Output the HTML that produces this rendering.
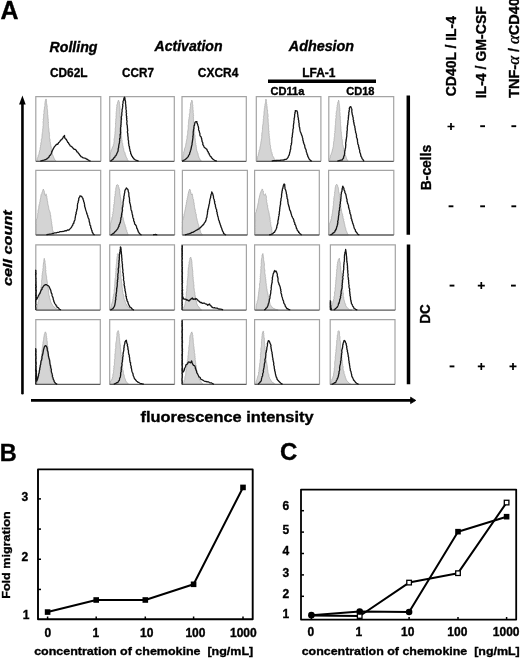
<!DOCTYPE html>
<html><head><meta charset="utf-8"><style>
html,body{margin:0;padding:0;background:#fff;}
svg{display:block;will-change:transform;}
text{font-family:"Liberation Sans",sans-serif;stroke:#000;stroke-width:0.35px;}
</style></head><body>
<svg width="520" height="658" viewBox="0 0 520 658">
<rect width="520" height="658" fill="#fff"/>
<path d="M36.69,161.30 L36.69,161.30 L36.86,160.54 L37.19,159.94 L37.16,158.88 L37.37,158.21 L37.73,157.48 L37.80,156.97 L38.23,156.25 L38.16,155.73 L38.54,154.75 L38.91,154.52 L39.05,153.70 L39.01,152.83 L39.48,152.03 L39.47,150.91 L39.64,150.45 L40.06,149.90 L40.05,149.07 L40.07,148.29 L40.33,147.09 L40.53,146.58 L40.70,146.01 L40.43,145.17 L40.97,144.29 L40.83,143.93 L40.89,143.01 L41.03,142.52 L41.43,141.47 L41.20,140.66 L41.49,140.29 L41.39,139.33 L41.76,138.59 L41.90,137.86 L42.05,137.16 L41.96,136.33 L42.05,135.56 L42.13,134.77 L42.03,133.97 L42.31,133.52 L42.33,132.45 L42.53,132.19 L42.67,131.45 L42.72,130.77 L42.61,129.73 L42.76,128.93 L42.87,128.55 L42.97,127.67 L43.06,126.94 L42.88,126.26 L43.21,125.69 L43.17,124.47 L43.15,123.99 L43.22,123.48 L43.08,122.67 L43.07,121.63 L43.44,120.97 L43.50,120.09 L43.23,119.72 L43.23,118.91 L43.69,118.15 L43.63,117.11 L43.66,116.72 L43.68,115.86 L43.63,115.48 L43.56,114.16 L44.09,113.51 L43.78,112.78 L44.20,112.46 L43.91,111.41 L44.04,110.56 L44.19,110.05 L44.34,109.02 L44.50,108.19 L44.39,107.99 L44.51,106.84 L44.84,106.36 L45.01,105.19 L44.97,104.90 L44.75,103.95 L45.20,102.98 L45.05,102.29 L45.28,101.20 L45.43,100.50 L45.61,99.72 L46.02,98.95 L46.39,99.70 L46.36,100.36 L46.55,101.36 L46.33,102.14 L46.53,103.35 L46.72,103.85 L46.86,105.14 L47.12,105.84 L47.22,106.47 L47.13,107.40 L46.99,107.89 L47.21,108.69 L47.41,109.54 L47.58,110.43 L47.42,111.10 L47.62,111.85 L47.66,112.38 L47.61,113.25 L47.54,114.16 L47.75,114.93 L47.94,115.87 L47.88,116.28 L47.92,117.32 L48.18,118.07 L47.90,118.92 L48.16,119.10 L48.26,120.38 L48.15,120.93 L48.16,121.38 L48.40,121.99 L48.50,123.04 L48.20,123.53 L48.51,124.72 L48.38,125.51 L48.35,126.17 L48.55,126.44 L48.55,127.40 L48.86,128.38 L48.61,128.91 L48.92,129.54 L49.08,130.23 L48.74,130.83 L49.11,131.87 L49.30,132.83 L49.35,133.03 L49.33,134.16 L49.38,134.94 L49.60,135.66 L49.44,136.37 L49.46,137.17 L49.46,137.68 L49.71,138.83 L49.99,139.33 L50.06,139.92 L49.95,141.25 L50.13,141.67 L50.37,142.38 L50.45,143.11 L50.36,143.85 L50.70,144.55 L50.76,145.47 L50.88,146.11 L51.23,147.10 L51.32,148.17 L51.19,148.64 L51.48,149.38 L51.40,150.33 L51.88,151.25 L51.94,151.73 L52.29,152.70 L52.05,153.17 L52.56,153.97 L52.48,154.84 L52.99,155.55 L53.24,156.30 L53.61,156.88 L53.79,157.89 L54.08,158.44 L54.50,158.86 L54.66,159.83 L55.31,160.18 L55.76,160.74 L56.21,161.30 L56.21,161.30 Z" fill="#d4d4d4" stroke="#acacac" stroke-width="0.8" stroke-linejoin="round"/>
<path d="M35.80,161.30 L35.80,96.70 L100.80,96.70 L100.80,161.30" fill="none" stroke="#a4a4a4" stroke-width="1.2"/>
<line x1="35.80" y1="161.30" x2="100.80" y2="161.30" stroke="#5a5a5a" stroke-width="1.3"/>
<path d="M40.28,161.05 L41.18,160.81 L42.08,160.56 L42.97,160.33 L43.87,160.11 L44.60,159.86 L45.57,159.69 L46.23,159.22 L46.93,158.96 L47.26,158.33 L47.92,158.04 L49.02,157.09 L49.12,156.76 L49.47,155.81 L49.87,155.32 L50.48,155.10 L50.69,154.50 L51.14,153.80 L51.56,152.68 L51.76,151.99 L51.74,151.48 L52.40,150.91 L52.41,150.40 L53.04,149.36 L53.16,148.93 L53.71,147.95 L53.88,147.78 L54.24,146.96 L55.00,146.16 L55.44,145.53 L56.23,144.71 L57.05,144.05 L57.55,144.29 L58.16,143.70 L58.53,142.64 L59.07,142.36 L59.68,141.60 L60.26,140.77 L60.96,139.88 L61.68,139.64 L62.11,138.90 L63.04,137.85 L63.04,137.46 L63.44,136.62 L63.94,136.15 L64.54,135.43 L64.52,135.99 L64.60,137.00 L64.97,138.21 L65.36,138.68 L66.25,139.36 L66.59,140.17 L67.01,140.76 L67.41,141.56 L67.67,142.29 L68.46,142.52 L68.59,143.31 L69.01,144.05 L69.74,144.85 L70.14,145.88 L70.97,146.18 L71.51,146.56 L72.01,146.98 L72.57,147.52 L72.87,148.00 L73.67,148.88 L74.43,149.36 L75.01,149.38 L75.66,149.84 L76.31,150.46 L76.46,150.90 L76.98,151.80 L77.76,152.11 L77.85,152.32 L78.22,153.03 L78.94,153.81 L79.49,154.51 L79.70,155.01 L80.42,155.71 L80.96,156.54 L81.56,156.77 L82.39,157.33 L82.96,157.83 L83.57,157.96 L84.58,158.05 L85.00,158.20 L85.80,158.46 L86.34,159.19 L87.20,159.21 L87.91,159.83 L88.52,160.15 L89.19,160.56 L89.87,160.81 L90.54,161.05" fill="none" stroke="#151515" stroke-width="1.3" stroke-linejoin="round"/>
<path d="M109.70,161.30 L109.70,161.30 L109.73,160.58 L109.59,160.08 L109.92,159.01 L109.83,158.41 L109.94,157.90 L109.70,156.72 L110.09,156.25 L110.09,155.28 L110.10,154.90 L110.15,154.23 L110.64,152.87 L110.38,152.37 L110.98,151.47 L110.96,150.82 L111.19,150.03 L111.71,149.52 L111.93,148.68 L112.25,148.15 L112.48,147.21 L112.93,146.86 L113.03,145.97 L113.39,145.70 L113.16,144.71 L113.64,144.26 L113.94,143.41 L113.99,142.83 L113.83,142.05 L114.21,141.47 L114.12,140.58 L114.00,139.64 L114.46,139.00 L114.26,138.35 L114.61,137.69 L114.55,136.82 L114.71,136.29 L114.82,135.32 L114.85,134.38 L114.69,134.06 L115.19,133.27 L114.96,132.29 L115.07,132.05 L115.25,131.06 L115.34,130.15 L115.23,129.86 L115.31,128.84 L115.21,128.16 L115.60,127.11 L115.57,126.88 L115.67,126.11 L115.67,125.25 L115.60,124.48 L115.40,124.03 L115.69,122.91 L115.71,122.36 L115.68,121.56 L115.81,121.01 L115.89,120.19 L115.66,119.34 L115.77,118.83 L116.15,118.24 L116.16,117.54 L115.95,116.83 L116.19,115.66 L115.92,114.90 L116.34,114.32 L116.09,113.82 L116.27,112.76 L116.24,112.31 L116.31,111.43 L116.63,110.82 L116.50,110.10 L116.42,109.33 L116.68,108.48 L116.59,108.18 L116.84,107.04 L116.95,106.68 L116.73,105.48 L116.95,105.09 L117.12,104.28 L117.53,103.37 L117.47,102.82 L117.91,101.74 L118.04,101.01 L118.53,100.16 L119.03,101.14 L119.02,101.72 L119.56,102.85 L119.36,103.63 L119.47,104.46 L119.79,104.93 L119.67,105.47 L120.00,106.22 L120.00,107.50 L119.92,107.75 L120.09,108.95 L120.04,109.40 L119.92,110.03 L119.86,110.95 L120.00,111.38 L119.88,112.39 L120.00,113.02 L120.05,113.97 L120.35,114.18 L120.05,115.09 L120.47,116.09 L120.20,116.47 L120.40,117.57 L120.57,118.00 L120.58,118.93 L120.43,119.83 L120.35,120.40 L120.32,120.79 L120.76,121.54 L120.73,122.50 L120.81,123.09 L120.61,123.77 L120.91,124.68 L121.00,125.57 L120.66,126.10 L120.70,126.51 L120.73,127.73 L121.13,128.44 L120.97,129.03 L121.23,129.62 L121.18,130.25 L121.00,131.00 L121.44,131.90 L121.50,132.56 L121.25,133.49 L121.56,133.75 L121.56,134.54 L121.37,135.77 L121.41,136.13 L121.94,136.98 L121.59,137.58 L121.73,138.67 L121.74,139.52 L121.94,140.30 L122.27,140.65 L122.07,141.52 L122.12,142.40 L122.20,142.78 L122.77,143.72 L122.70,144.59 L122.68,145.12 L123.08,146.44 L123.30,146.73 L123.12,147.84 L123.68,148.60 L123.73,149.48 L123.71,150.22 L123.96,150.71 L124.07,151.41 L124.73,152.18 L124.80,152.97 L125.16,153.49 L125.08,154.13 L125.35,155.11 L125.90,155.46 L125.90,156.28 L126.29,156.98 L126.40,157.31 L126.73,158.01 L127.22,158.68 L127.32,159.70 L127.87,160.29 L128.54,161.30 L128.54,161.30 Z" fill="#d4d4d4" stroke="#acacac" stroke-width="0.8" stroke-linejoin="round"/>
<path d="M109.70,161.30 L109.70,96.70 L174.30,96.70 L174.30,161.30" fill="none" stroke="#a4a4a4" stroke-width="1.2"/>
<line x1="109.70" y1="161.30" x2="174.30" y2="161.30" stroke="#5a5a5a" stroke-width="1.3"/>
<path d="M110.37,161.30 L111.04,160.74 L111.71,160.18 L112.42,159.43 L113.11,159.36 L113.38,158.70 L113.76,157.93 L114.30,157.71 L114.77,157.21 L115.21,156.07 L115.72,155.74 L116.36,154.89 L116.61,154.31 L116.92,153.38 L117.20,152.77 L117.31,152.41 L117.86,151.64 L118.13,150.69 L118.07,149.92 L118.26,149.28 L118.25,148.38 L118.68,147.52 L118.62,146.95 L118.70,146.13 L118.87,145.07 L118.98,144.35 L119.06,143.98 L119.43,143.04 L119.48,142.37 L119.51,141.87 L119.51,141.13 L119.79,140.27 L119.55,139.17 L119.63,138.60 L120.12,138.18 L120.13,136.99 L120.13,136.65 L120.24,135.93 L119.98,134.82 L120.36,134.43 L120.47,133.52 L120.53,132.60 L120.62,132.31 L120.38,131.09 L120.54,130.73 L120.49,129.63 L120.51,129.37 L120.47,128.71 L120.60,127.54 L120.59,127.29 L121.02,126.16 L120.68,125.64 L121.11,124.53 L121.04,124.31 L121.01,123.41 L121.23,122.49 L121.03,122.02 L121.22,121.21 L121.18,120.72 L121.22,119.83 L121.57,118.93 L121.23,118.08 L121.29,117.31 L121.38,116.69 L121.56,116.02 L121.76,115.42 L121.84,114.50 L121.89,113.88 L121.70,113.13 L121.87,112.46 L122.14,111.45 L122.08,110.83 L122.08,109.83 L122.04,109.65 L122.45,108.57 L122.49,107.72 L122.58,107.39 L122.71,106.33 L122.91,105.83 L122.56,104.75 L122.84,103.90 L123.02,103.06 L123.18,102.71 L122.94,101.85 L123.21,100.97 L123.58,100.33 L123.80,99.11 L123.94,98.15 L124.60,97.25 L124.93,98.21 L124.99,99.33 L125.02,99.78 L125.16,100.52 L125.51,101.56 L125.57,102.53 L125.55,102.80 L125.49,103.83 L125.80,104.82 L125.76,105.16 L125.86,106.33 L125.80,107.07 L126.13,107.61 L125.99,108.09 L125.87,108.78 L126.17,109.94 L126.40,110.60 L126.45,111.22 L126.09,111.75 L126.21,112.76 L126.59,113.36 L126.28,114.35 L126.40,114.98 L126.34,115.89 L126.76,116.57 L126.81,117.05 L126.43,117.77 L126.89,118.60 L126.61,119.14 L126.64,120.05 L127.05,121.05 L127.02,121.71 L126.80,122.46 L126.86,123.04 L126.82,123.99 L126.92,124.55 L127.22,125.31 L127.28,125.88 L127.38,126.95 L127.35,127.70 L127.52,127.87 L127.48,128.62 L127.53,129.51 L127.67,130.04 L127.77,130.76 L127.39,131.46 L127.48,132.78 L127.87,133.46 L127.61,134.05 L127.96,134.80 L127.75,135.67 L128.05,136.24 L127.91,136.82 L128.21,137.64 L128.16,138.63 L128.20,139.34 L128.10,139.89 L128.49,140.33 L128.56,141.24 L128.60,142.19 L128.48,143.13 L128.65,143.39 L128.87,144.10 L128.83,145.26 L128.94,145.88 L129.44,146.57 L129.53,147.55 L129.33,147.84 L129.75,149.07 L129.97,149.78 L130.00,150.74 L130.30,151.43 L130.57,151.81 L130.67,152.94 L130.59,153.41 L131.20,154.25 L131.40,154.78 L131.67,155.80 L132.13,156.28 L132.52,156.68 L132.74,157.63 L133.57,158.04 L133.75,158.94 L134.50,159.18 L135.11,159.79 L135.94,160.29 L136.62,160.49 L137.29,160.69 L137.96,160.90 L138.63,161.10" fill="none" stroke="#151515" stroke-width="1.3" stroke-linejoin="round"/>
<path d="M182.42,161.30 L182.42,161.30 L182.51,160.57 L182.82,160.11 L182.48,158.86 L182.94,158.52 L182.95,157.54 L183.01,156.99 L183.15,155.95 L183.24,155.32 L183.53,154.91 L183.79,153.87 L183.70,152.94 L183.66,152.02 L184.02,151.43 L184.17,151.00 L184.44,150.04 L184.49,148.95 L184.72,148.24 L185.00,147.99 L185.28,146.73 L185.57,146.33 L185.65,145.65 L185.81,144.83 L185.76,144.20 L186.20,142.96 L186.25,142.54 L186.26,141.68 L186.43,141.17 L186.58,140.37 L186.66,139.65 L187.02,138.67 L186.96,138.21 L187.13,137.21 L186.99,136.38 L187.32,135.55 L187.51,134.88 L187.61,134.17 L187.73,133.67 L187.61,132.83 L187.78,132.13 L187.72,131.17 L187.89,130.88 L188.01,129.64 L188.18,129.31 L188.29,128.26 L188.29,127.46 L188.32,126.86 L188.18,126.50 L188.20,125.56 L188.63,124.67 L188.39,124.33 L188.57,123.50 L188.45,122.57 L188.59,122.03 L188.62,121.47 L188.67,120.61 L188.74,119.60 L189.19,118.82 L188.96,118.41 L189.13,117.30 L189.49,116.64 L189.11,116.03 L189.46,115.54 L189.29,114.58 L189.32,113.92 L189.75,113.37 L189.89,112.65 L189.96,111.88 L189.86,110.84 L190.04,110.15 L189.86,109.48 L190.32,108.54 L190.27,107.95 L190.33,107.05 L190.63,106.37 L190.55,105.72 L190.43,105.00 L190.65,103.89 L190.76,103.14 L190.95,102.62 L191.31,102.02 L191.79,101.22 L191.72,100.08 L192.00,100.98 L192.44,101.91 L192.56,102.35 L192.50,103.28 L192.38,103.76 L192.65,104.57 L192.88,105.42 L192.65,106.16 L192.79,106.95 L192.97,107.82 L192.91,108.65 L192.91,109.53 L193.31,110.15 L193.10,110.75 L193.21,111.20 L193.17,112.20 L193.10,112.67 L193.44,113.56 L193.35,114.62 L193.43,114.96 L193.65,115.74 L193.23,116.65 L193.31,117.15 L193.71,118.09 L193.35,118.68 L193.58,119.43 L193.53,120.22 L193.51,120.76 L193.69,121.87 L193.59,122.49 L193.69,123.11 L193.82,123.76 L194.04,124.45 L193.78,125.01 L193.80,126.17 L194.13,126.96 L194.22,127.13 L194.26,128.30 L194.36,128.86 L194.24,129.56 L194.52,130.17 L194.45,131.02 L194.72,131.94 L194.77,132.69 L194.52,133.05 L194.68,133.79 L194.71,134.77 L195.01,135.44 L195.03,135.88 L194.89,137.15 L194.86,137.54 L194.89,138.07 L195.36,139.35 L195.32,139.57 L195.22,140.36 L195.48,141.37 L195.44,142.01 L195.36,142.75 L195.83,143.62 L195.54,144.24 L195.95,144.85 L196.15,145.75 L196.17,146.48 L196.43,147.48 L196.34,147.86 L196.39,148.56 L196.68,149.88 L196.70,150.47 L197.06,151.21 L197.39,152.34 L197.60,152.87 L197.95,153.46 L198.07,154.33 L198.30,155.12 L198.27,155.65 L198.58,156.35 L199.08,157.00 L198.95,157.57 L199.62,158.50 L199.93,159.13 L199.96,159.88 L200.64,160.18 L201.09,160.74 L201.54,161.30 L201.54,161.30 Z" fill="#d4d4d4" stroke="#acacac" stroke-width="0.8" stroke-linejoin="round"/>
<path d="M182.00,161.30 L182.00,96.70 L246.30,96.70 L246.30,161.30" fill="none" stroke="#a4a4a4" stroke-width="1.2"/>
<line x1="182.00" y1="161.30" x2="246.30" y2="161.30" stroke="#5a5a5a" stroke-width="1.3"/>
<path d="M182.02,161.30 L182.69,160.93 L183.37,160.56 L184.04,160.15 L184.54,159.82 L185.23,159.47 L186.11,158.69 L186.79,158.22 L187.18,157.61 L187.87,156.93 L188.39,156.39 L188.56,155.41 L188.84,155.09 L189.51,154.30 L189.62,153.56 L189.74,152.90 L189.93,152.28 L190.38,151.64 L190.42,150.62 L190.69,150.30 L190.93,149.57 L191.04,148.59 L191.43,147.68 L191.24,147.17 L191.60,146.31 L191.72,145.54 L191.93,145.04 L192.11,144.14 L192.04,143.58 L192.13,142.64 L192.44,141.93 L192.32,141.21 L192.52,140.57 L192.64,139.59 L192.91,138.84 L192.74,138.34 L193.08,137.13 L192.73,136.80 L193.20,135.76 L192.97,135.20 L193.37,134.17 L193.21,133.69 L193.18,132.79 L193.22,132.08 L193.33,131.09 L193.50,130.37 L193.47,129.60 L193.71,128.93 L193.96,128.22 L193.82,127.31 L193.94,126.88 L193.99,125.94 L194.51,125.26 L194.57,124.37 L194.88,123.11 L194.95,122.40 L195.62,121.86 L196.32,121.53 L197.03,121.90 L196.81,122.46 L197.14,123.36 L197.60,124.20 L197.82,125.12 L198.01,125.72 L198.33,126.50 L198.48,127.61 L198.69,128.05 L198.53,129.43 L198.67,129.97 L199.12,130.89 L199.48,132.07 L199.44,132.47 L199.94,133.56 L199.85,134.27 L199.96,135.43 L200.36,136.09 L200.93,136.72 L201.22,137.14 L201.39,138.23 L201.73,138.64 L201.74,139.79 L202.02,140.58 L202.10,141.68 L202.63,142.40 L202.90,143.16 L202.72,144.08 L202.96,144.96 L203.58,145.30 L203.70,145.89 L204.08,147.11 L204.77,147.73 L205.40,148.08 L206.10,148.76 L206.88,149.36 L207.12,150.02 L207.41,150.98 L207.83,151.53 L208.32,151.96 L208.32,153.00 L209.13,153.27 L209.23,154.53 L209.78,155.20 L210.08,155.86 L210.30,156.23 L211.13,156.86 L211.38,157.43 L211.80,158.19 L212.53,158.38 L212.90,159.26 L213.77,159.80 L214.55,160.34 L215.27,160.56 L216.08,160.81 L216.88,161.05" fill="none" stroke="#151515" stroke-width="1.3" stroke-linejoin="round"/>
<path d="M256.96,161.30 L256.96,161.30 L257.06,160.54 L257.04,159.81 L257.20,159.09 L257.43,158.01 L257.32,157.66 L257.63,156.49 L258.17,155.83 L258.28,155.02 L258.37,154.02 L258.56,153.68 L258.70,152.84 L258.97,151.66 L259.20,151.21 L259.17,150.10 L259.64,149.60 L259.76,149.07 L259.91,148.33 L259.91,147.49 L260.09,146.80 L260.45,145.53 L260.25,144.83 L260.80,144.19 L260.79,143.34 L260.83,142.66 L260.86,142.04 L261.06,141.50 L261.21,140.78 L261.39,140.08 L261.40,138.85 L261.59,138.60 L261.71,137.63 L261.71,136.68 L261.87,136.16 L261.70,135.12 L262.05,134.95 L261.76,134.12 L261.98,133.00 L262.00,132.65 L262.35,131.49 L262.30,130.76 L262.42,130.21 L262.57,129.87 L262.46,129.16 L262.44,127.88 L262.65,127.13 L262.53,126.63 L262.80,125.76 L262.60,125.46 L262.81,124.79 L263.16,123.71 L263.02,123.07 L263.18,122.39 L263.21,121.68 L263.47,120.89 L263.30,120.29 L263.28,119.32 L263.70,118.73 L263.57,117.70 L263.58,117.31 L263.46,116.61 L263.83,115.54 L263.90,115.05 L264.00,114.25 L264.09,113.74 L263.83,112.60 L264.22,112.41 L264.09,111.37 L264.32,110.56 L264.29,109.82 L264.36,109.25 L264.40,108.39 L264.75,107.41 L264.76,107.06 L264.75,105.99 L265.11,105.23 L264.93,104.58 L265.29,103.61 L265.22,102.98 L265.60,102.29 L265.75,101.37 L265.63,100.91 L266.03,100.03 L265.85,99.08 L266.10,99.88 L266.34,101.02 L266.15,101.44 L266.56,102.41 L266.67,102.98 L266.45,103.76 L266.88,104.56 L266.77,105.45 L266.91,106.25 L267.26,106.91 L266.89,108.13 L267.39,108.90 L267.25,109.63 L267.56,109.94 L267.55,111.06 L267.58,111.61 L267.48,112.26 L267.53,112.84 L267.77,113.72 L267.93,114.31 L268.02,115.43 L268.08,116.29 L268.12,116.83 L267.74,117.66 L267.87,118.13 L268.15,119.00 L268.08,119.98 L268.23,120.36 L268.10,121.41 L268.26,122.09 L268.25,122.48 L268.38,123.58 L268.26,124.30 L268.67,125.04 L268.67,125.30 L268.62,126.55 L268.40,126.93 L268.55,127.81 L268.67,128.52 L268.89,128.97 L268.59,129.78 L268.69,130.48 L269.16,131.68 L268.79,132.20 L268.96,132.83 L269.04,133.76 L269.22,134.32 L269.09,135.04 L269.12,135.91 L269.46,136.54 L269.22,137.15 L269.42,138.14 L269.69,138.75 L269.77,139.65 L269.67,140.24 L269.78,141.19 L269.82,141.93 L269.91,142.41 L270.02,143.43 L269.87,144.01 L270.12,145.04 L270.50,145.50 L270.61,146.52 L270.44,147.09 L270.51,148.07 L270.90,148.89 L271.10,149.52 L271.21,150.23 L271.12,151.05 L271.29,151.59 L271.87,152.34 L271.76,153.18 L272.36,154.04 L272.21,155.11 L272.53,155.78 L273.06,156.45 L273.47,156.97 L273.66,157.32 L273.98,158.28 L274.30,158.71 L274.65,159.88 L274.87,160.29 L275.54,161.30 L275.54,161.30 Z" fill="#d4d4d4" stroke="#acacac" stroke-width="0.8" stroke-linejoin="round"/>
<path d="M256.30,161.30 L256.30,96.70 L320.90,96.70 L320.90,161.30" fill="none" stroke="#a4a4a4" stroke-width="1.2"/>
<line x1="256.30" y1="161.30" x2="320.90" y2="161.30" stroke="#5a5a5a" stroke-width="1.3"/>
<path d="M271.77,161.00 L272.58,160.85 L273.38,160.71 L274.19,160.56 L275.00,160.53 L275.81,160.50 L276.62,160.48 L277.42,160.45 L278.23,160.42 L279.04,160.37 L279.85,160.32 L280.65,160.26 L281.46,160.21 L282.27,160.15 L283.34,159.99 L284.06,160.03 L284.66,159.50 L285.68,159.39 L286.25,159.40 L287.16,158.49 L287.45,158.10 L288.15,157.31 L288.20,156.69 L288.48,156.26 L288.85,155.52 L289.30,154.94 L289.34,154.21 L289.61,153.47 L289.65,152.42 L290.00,152.00 L290.21,150.95 L290.23,150.06 L290.33,149.74 L290.77,148.93 L290.72,148.07 L290.73,147.19 L290.77,146.41 L290.95,145.47 L291.39,144.72 L291.45,144.33 L291.23,143.45 L291.75,143.02 L291.62,142.16 L291.78,141.13 L291.79,140.58 L291.80,139.98 L291.91,139.21 L291.81,138.29 L291.89,137.68 L292.37,136.88 L292.31,136.19 L292.24,135.32 L292.49,134.74 L292.48,133.90 L292.54,133.21 L292.79,132.34 L292.88,131.92 L292.90,131.27 L292.87,130.50 L292.90,129.43 L293.29,128.50 L293.28,128.26 L293.52,127.42 L293.31,126.47 L293.52,125.58 L293.30,125.33 L293.66,124.17 L293.64,123.51 L293.93,122.77 L293.93,122.31 L293.81,121.28 L293.98,120.64 L294.09,119.86 L294.26,119.18 L294.04,118.63 L294.50,117.80 L294.43,117.15 L294.71,115.86 L294.59,115.10 L294.61,114.46 L294.77,113.95 L295.13,112.96 L294.89,112.66 L295.43,111.66 L295.28,110.62 L297.02,110.90 L297.32,111.86 L297.60,112.68 L297.46,113.12 L297.64,114.20 L297.91,114.96 L297.90,115.56 L297.81,116.45 L298.13,117.12 L298.26,118.17 L298.47,118.40 L298.26,119.45 L298.56,120.00 L298.78,120.85 L298.80,121.36 L298.68,122.09 L299.03,123.13 L299.21,123.93 L299.01,124.53 L299.17,125.24 L299.18,126.32 L299.41,127.01 L299.74,127.71 L299.74,128.55 L299.91,129.65 L300.03,130.39 L300.26,131.45 L300.58,132.30 L300.91,132.79 L301.16,133.56 L301.48,134.12 L301.38,134.63 L301.94,135.60 L302.26,136.54 L302.40,137.42 L302.68,138.17 L302.89,138.84 L302.78,139.46 L302.99,140.74 L303.40,141.03 L303.31,142.09 L303.80,142.87 L303.78,143.66 L304.43,144.77 L304.63,145.34 L304.78,145.97 L304.82,147.10 L304.99,147.38 L305.21,148.39 L305.65,148.90 L305.96,149.67 L306.23,150.70 L306.17,151.21 L306.52,152.18 L306.85,152.98 L307.05,153.62 L307.03,154.38 L307.59,154.99 L307.68,155.42 L307.71,156.22 L308.25,157.06 L308.51,157.62 L308.79,158.20 L309.28,159.24 L309.88,159.74 L310.54,160.56 L311.21,160.93 L311.88,161.30" fill="none" stroke="#151515" stroke-width="1.3" stroke-linejoin="round"/>
<path d="M329.69,161.30 L329.69,161.30 L329.75,160.56 L329.67,159.58 L329.80,158.87 L329.70,158.28 L330.16,157.78 L330.30,156.76 L330.41,156.12 L330.45,155.34 L330.69,155.16 L331.20,154.41 L331.41,153.37 L331.40,152.96 L331.82,152.42 L332.12,151.29 L332.21,150.97 L332.39,150.00 L332.53,149.18 L332.90,148.87 L332.87,147.76 L333.20,147.16 L333.34,146.55 L333.31,145.53 L333.51,144.77 L333.38,143.96 L333.78,143.07 L333.50,142.68 L333.70,141.89 L333.88,141.04 L334.21,140.22 L334.02,139.49 L334.21,138.80 L334.16,138.35 L334.23,137.50 L334.60,136.49 L334.26,135.85 L334.66,135.36 L334.47,134.48 L334.50,133.83 L334.50,133.26 L334.97,132.70 L334.96,131.98 L334.68,130.86 L335.19,130.43 L334.99,129.82 L335.15,129.02 L335.06,127.93 L335.19,127.18 L335.23,126.96 L335.27,125.67 L335.18,125.05 L335.59,124.44 L335.41,123.57 L335.79,123.04 L335.48,122.11 L335.46,121.46 L335.81,120.73 L335.56,120.21 L335.71,119.80 L335.70,118.80 L336.07,118.01 L336.23,117.33 L335.92,116.57 L335.88,115.86 L336.03,115.43 L336.39,114.46 L336.08,113.58 L336.25,112.81 L336.32,112.48 L336.35,111.25 L336.80,110.83 L336.90,109.99 L336.93,109.41 L336.95,108.73 L336.89,107.61 L336.82,107.34 L337.29,106.58 L337.15,105.64 L337.51,104.85 L337.65,103.99 L337.71,103.30 L337.66,102.66 L338.21,101.48 L338.44,101.33 L338.52,100.11 L338.86,101.06 L339.12,102.28 L338.90,102.88 L339.24,103.85 L339.36,104.80 L339.16,104.98 L339.56,105.72 L339.60,106.52 L339.63,107.65 L339.73,108.25 L339.79,108.77 L339.75,109.58 L339.92,110.58 L339.77,111.17 L339.61,111.59 L339.92,112.58 L340.10,113.37 L339.79,113.94 L340.14,114.76 L339.82,115.66 L340.26,115.93 L340.17,116.83 L340.33,117.50 L340.11,118.33 L340.51,118.81 L340.14,119.84 L340.56,120.49 L340.38,121.42 L340.59,121.66 L340.70,122.47 L340.47,123.57 L340.58,124.28 L340.51,125.05 L340.57,125.34 L340.77,126.18 L340.84,127.24 L340.98,127.43 L340.84,128.47 L340.97,129.30 L341.02,129.64 L340.96,130.83 L341.07,131.51 L341.44,132.17 L341.37,132.91 L341.27,133.84 L341.42,134.58 L341.42,135.31 L341.72,135.90 L341.63,136.37 L341.86,137.25 L341.89,137.86 L341.71,138.61 L342.17,139.38 L342.31,140.24 L342.26,140.98 L342.39,141.57 L342.39,142.83 L342.39,143.40 L342.56,143.94 L342.52,144.52 L343.12,145.77 L343.20,146.53 L343.43,146.91 L343.41,147.88 L343.55,148.92 L343.80,149.70 L343.64,150.28 L344.10,151.01 L344.27,151.74 L344.31,152.47 L344.55,152.94 L344.98,153.68 L344.89,154.07 L345.09,154.98 L345.68,155.82 L345.66,156.19 L346.13,156.79 L346.21,157.30 L346.37,158.29 L346.95,159.10 L347.13,160.06 L347.53,160.54 L347.87,161.30 L348.54,161.30 L348.54,161.30 Z" fill="#d4d4d4" stroke="#acacac" stroke-width="0.8" stroke-linejoin="round"/>
<path d="M328.80,161.30 L328.80,96.70 L393.70,96.70 L393.70,161.30" fill="none" stroke="#a4a4a4" stroke-width="1.2"/>
<line x1="328.80" y1="161.30" x2="393.70" y2="161.30" stroke="#5a5a5a" stroke-width="1.3"/>
<path d="M337.32,161.05 L338.22,160.81 L339.12,160.56 L340.01,160.33 L340.91,160.11 L342.03,160.11 L342.46,159.18 L342.80,158.94 L343.57,157.98 L343.48,157.70 L343.67,156.75 L343.99,155.93 L344.46,155.09 L344.45,154.12 L344.66,153.57 L344.65,152.74 L344.81,151.88 L344.74,151.33 L344.80,150.62 L345.23,150.02 L345.07,149.04 L345.49,148.27 L345.62,147.44 L345.64,146.61 L345.66,146.34 L345.67,145.51 L345.92,145.00 L345.64,143.99 L345.65,143.18 L345.77,142.33 L346.07,141.56 L345.92,140.79 L346.31,140.20 L346.02,139.70 L346.41,138.98 L346.40,138.20 L346.55,137.34 L346.68,136.85 L346.76,136.24 L346.83,135.29 L346.75,134.70 L346.85,133.55 L347.08,132.93 L346.95,132.35 L346.83,131.70 L347.14,131.12 L347.23,130.09 L347.28,129.76 L347.38,128.96 L347.15,128.15 L347.32,127.11 L347.45,126.38 L347.41,125.67 L347.55,124.95 L347.90,124.12 L347.68,123.37 L347.91,122.74 L347.99,122.01 L347.90,121.43 L347.92,120.93 L348.23,119.90 L348.29,119.50 L348.34,118.42 L348.28,117.66 L348.63,117.05 L348.46,116.48 L348.47,115.40 L348.85,114.99 L348.77,113.70 L348.90,113.20 L348.72,112.41 L349.24,111.44 L349.01,110.73 L349.42,110.03 L349.48,109.46 L349.27,108.54 L349.43,107.97 L349.95,107.04 L350.44,106.64 L350.75,106.60 L351.10,107.50 L351.38,108.33 L351.86,109.24 L351.97,109.99 L351.73,110.75 L351.81,111.54 L351.91,112.53 L352.10,113.30 L352.17,113.67 L352.32,114.81 L352.73,115.53 L352.75,115.94 L352.72,116.64 L353.19,117.47 L353.22,118.16 L353.15,119.29 L353.23,119.74 L353.71,120.64 L353.42,121.66 L354.02,122.33 L353.70,123.03 L354.11,123.69 L354.15,124.76 L354.42,125.58 L354.72,126.17 L354.88,126.69 L354.82,127.80 L355.17,128.44 L355.08,129.47 L355.25,129.73 L355.40,130.63 L355.65,131.73 L355.51,132.20 L356.08,133.26 L356.17,133.78 L356.41,134.82 L356.50,135.41 L356.57,135.93 L356.43,136.63 L356.59,137.70 L357.18,138.51 L357.25,139.38 L357.48,139.87 L357.42,141.02 L357.50,141.66 L357.69,142.10 L357.74,142.99 L357.81,144.08 L358.12,144.46 L358.49,145.09 L358.63,146.12 L358.48,146.88 L359.09,147.45 L358.93,148.32 L359.26,149.11 L359.56,150.00 L359.79,150.64 L359.66,151.39 L359.79,152.29 L360.27,153.32 L360.55,153.94 L360.70,155.19 L360.84,155.42 L361.04,156.53 L361.53,156.92 L361.73,157.34 L361.96,158.39 L362.33,158.95 L363.00,159.43 L363.41,160.46 L364.02,161.30" fill="none" stroke="#151515" stroke-width="1.3" stroke-linejoin="round"/>
<path d="M35.88,235.00 L35.88,235.00 L35.88,234.29 L35.92,233.54 L35.92,232.70 L36.04,232.37 L35.96,231.26 L35.89,230.65 L35.76,230.32 L36.12,229.07 L36.06,228.70 L35.83,227.80 L35.97,227.20 L35.97,226.61 L35.71,225.97 L36.12,225.38 L35.94,224.12 L35.65,223.47 L36.10,222.86 L35.82,222.51 L35.80,221.60 L35.85,220.60 L35.93,220.36 L36.39,219.32 L37.19,218.53 L37.31,218.23 L37.46,217.29 L37.63,216.29 L37.57,215.66 L37.66,214.73 L37.82,213.95 L37.61,213.61 L38.12,212.61 L38.00,211.73 L38.06,211.19 L38.15,210.12 L38.42,209.38 L38.65,209.00 L38.84,208.03 L38.77,207.23 L38.74,206.63 L39.03,205.62 L39.05,204.93 L39.42,204.13 L39.70,203.53 L39.53,202.67 L40.00,201.90 L40.01,200.85 L40.11,200.32 L40.22,199.53 L40.46,198.83 L40.57,197.84 L40.70,197.55 L40.91,196.18 L40.92,195.68 L41.16,194.60 L41.40,194.01 L42.04,193.22 L41.99,192.52 L42.21,191.85 L42.52,191.45 L42.71,190.49 L43.09,190.11 L43.26,189.03 L43.70,189.98 L43.94,190.59 L44.25,191.20 L44.41,192.33 L44.40,193.11 L44.71,193.97 L44.55,194.82 L45.23,195.53 L45.67,195.79 L45.75,195.03 L45.94,194.83 L45.97,193.81 L46.08,194.56 L46.31,195.34 L46.86,196.66 L46.77,197.42 L47.02,198.09 L47.02,198.98 L47.22,199.55 L47.26,200.58 L47.52,201.13 L47.68,202.34 L47.96,203.01 L47.74,203.68 L47.91,204.27 L48.15,205.32 L48.56,206.23 L48.49,207.08 L48.76,207.77 L48.80,208.54 L49.00,209.52 L49.27,210.03 L49.47,210.72 L49.77,211.54 L50.03,212.02 L50.19,213.16 L50.44,213.82 L50.16,214.71 L50.69,215.02 L50.61,216.01 L50.92,216.99 L50.80,217.54 L50.86,218.30 L51.26,219.61 L51.10,220.30 L51.54,220.74 L51.46,221.66 L51.75,222.68 L51.38,223.05 L51.88,224.04 L51.82,224.96 L52.03,225.81 L51.96,226.07 L52.27,226.88 L52.34,228.18 L52.39,228.83 L52.42,229.37 L52.80,230.64 L53.15,230.98 L53.28,232.11 L53.18,232.88 L53.51,233.54 L53.70,234.31 L53.92,235.00 L54.19,235.00 L54.19,235.00 Z" fill="#d4d4d4" stroke="#acacac" stroke-width="0.8" stroke-linejoin="round"/>
<path d="M35.80,235.00 L35.80,170.30 L100.70,170.30 L100.70,235.00" fill="none" stroke="#a4a4a4" stroke-width="1.2"/>
<line x1="35.80" y1="235.00" x2="100.70" y2="235.00" stroke="#5a5a5a" stroke-width="1.3"/>
<path d="M46.38,234.72 L47.19,234.57 L48.00,234.43 L48.81,234.29 L49.62,234.15 L50.42,234.02 L51.23,233.88 L52.25,233.68 L53.00,233.46 L53.73,233.26 L54.66,232.91 L55.50,232.83 L56.22,232.91 L57.53,232.28 L58.29,232.29 L59.09,232.10 L60.10,231.69 L60.86,231.60 L62.06,231.72 L62.85,231.30 L63.81,231.48 L64.70,230.83 L65.37,230.67 L66.28,230.87 L67.11,230.28 L67.76,229.90 L68.89,230.12 L69.73,229.08 L70.23,228.69 L70.78,228.05 L71.24,227.53 L71.76,226.89 L72.03,225.94 L72.58,225.49 L72.88,224.76 L72.84,224.49 L73.37,223.32 L73.93,223.10 L73.86,222.44 L74.21,221.28 L74.43,220.92 L74.87,219.92 L75.13,218.95 L75.04,218.02 L75.34,217.51 L75.39,216.42 L75.59,215.63 L75.65,214.94 L75.82,214.28 L76.30,213.72 L76.03,212.59 L76.33,212.05 L76.52,211.33 L76.78,210.62 L76.69,209.63 L77.18,209.01 L77.28,208.49 L77.36,207.54 L77.46,206.57 L77.34,205.84 L77.47,204.93 L77.56,204.14 L77.65,203.33 L78.13,202.50 L78.25,202.10 L78.18,201.16 L78.58,200.63 L78.77,199.34 L78.69,198.55 L78.92,198.13 L79.58,197.03 L79.86,196.84 L79.90,195.92 L80.99,196.15 L81.78,196.55 L82.19,197.35 L82.68,198.22 L83.01,198.56 L83.06,199.53 L83.54,200.31 L83.66,201.24 L83.66,201.62 L84.20,202.52 L84.30,203.51 L84.46,204.13 L84.78,205.11 L84.48,205.78 L84.89,206.91 L85.17,207.80 L85.27,208.11 L85.57,209.47 L85.85,210.27 L86.22,211.14 L86.30,211.45 L86.57,212.34 L86.71,213.26 L86.97,214.08 L87.40,215.04 L87.74,215.63 L87.68,216.16 L88.03,216.92 L88.12,217.77 L88.77,218.87 L88.95,219.24 L89.15,220.26 L89.12,221.16 L89.31,221.86 L89.79,222.90 L89.81,223.71 L89.86,224.28 L90.08,225.28 L90.72,225.93 L90.67,227.28 L90.86,227.90 L91.44,228.89 L91.43,229.46 L91.57,230.15 L92.12,230.97 L92.06,231.86 L92.24,232.11 L92.77,232.85 L93.23,233.88 L93.90,234.44 L94.58,235.00" fill="none" stroke="#151515" stroke-width="1.3" stroke-linejoin="round"/>
<path d="M109.70,235.00 L109.70,235.00 L109.73,234.25 L109.74,233.53 L109.99,232.72 L109.82,232.04 L109.69,231.25 L109.94,230.66 L109.71,229.62 L109.74,229.17 L110.05,227.96 L110.31,227.74 L110.27,226.76 L110.14,225.63 L110.44,224.89 L110.39,224.23 L110.43,223.59 L110.74,223.05 L110.97,222.16 L111.15,221.41 L111.33,220.41 L111.78,220.07 L111.89,219.12 L111.83,218.07 L112.01,217.20 L112.37,216.67 L112.53,215.92 L112.70,215.47 L112.37,214.35 L112.92,213.77 L113.08,212.99 L112.77,212.40 L113.23,211.45 L113.02,210.75 L113.56,210.27 L113.28,209.23 L113.36,208.39 L113.78,207.72 L113.75,207.15 L113.66,206.59 L113.71,205.80 L113.79,204.93 L113.92,204.11 L114.37,203.69 L114.14,203.01 L114.18,201.98 L114.57,201.39 L114.28,200.88 L114.41,199.71 L114.75,199.03 L114.60,198.15 L114.57,197.73 L114.72,197.02 L114.85,196.21 L115.20,195.50 L115.09,195.00 L114.98,193.85 L115.40,193.53 L115.15,192.42 L115.46,192.15 L115.34,191.40 L115.80,190.43 L115.71,189.38 L115.66,189.13 L115.89,188.22 L116.04,187.54 L116.33,186.46 L116.27,185.96 L116.75,184.99 L117.53,184.69 L118.03,185.02 L118.64,185.65 L118.45,186.53 L118.89,187.25 L118.99,188.27 L119.42,188.97 L119.43,190.20 L119.85,190.82 L119.82,191.55 L119.67,191.99 L119.73,193.28 L120.17,194.09 L119.96,194.66 L120.27,195.46 L120.28,196.37 L120.26,196.85 L120.67,197.81 L120.75,198.44 L120.87,199.31 L120.75,199.92 L121.10,200.78 L120.96,201.48 L121.23,202.10 L121.18,202.73 L121.22,203.62 L121.04,204.38 L121.54,205.27 L121.47,205.73 L121.53,206.59 L121.45,207.49 L121.34,208.19 L121.39,208.87 L121.68,209.42 L121.86,210.34 L121.90,211.37 L121.81,211.59 L121.90,212.76 L121.93,213.22 L122.43,214.33 L122.37,215.27 L122.48,215.95 L122.58,216.61 L123.03,217.71 L123.26,218.20 L123.30,218.97 L123.28,219.88 L123.80,220.90 L123.93,221.77 L123.96,221.97 L124.27,222.71 L124.40,223.47 L124.83,224.19 L124.90,225.20 L125.43,225.78 L125.21,226.33 L125.81,227.15 L125.95,228.27 L125.97,229.08 L126.05,229.36 L126.47,229.96 L126.87,230.77 L126.75,231.32 L127.22,232.24 L127.46,233.04 L127.78,233.89 L127.87,234.29 L128.54,235.00 L128.54,235.00 Z" fill="#d4d4d4" stroke="#acacac" stroke-width="0.8" stroke-linejoin="round"/>
<path d="M109.70,235.00 L109.70,170.30 L174.60,170.30 L174.60,235.00" fill="none" stroke="#a4a4a4" stroke-width="1.2"/>
<line x1="109.70" y1="235.00" x2="174.60" y2="235.00" stroke="#5a5a5a" stroke-width="1.3"/>
<path d="M111.04,235.00 L111.71,234.54 L112.38,234.08 L113.21,233.44 L113.94,233.07 L114.35,232.61 L114.92,231.82 L115.54,231.23 L116.17,230.74 L116.54,230.05 L116.96,229.71 L117.64,228.81 L117.94,228.12 L118.27,227.40 L118.53,226.83 L119.02,226.37 L118.88,225.30 L119.28,224.69 L119.39,224.46 L119.96,223.23 L119.74,222.92 L120.41,222.41 L120.44,221.53 L120.50,220.60 L120.83,219.58 L120.91,219.16 L120.81,218.41 L120.98,217.74 L121.40,216.67 L121.44,216.21 L121.47,214.98 L121.76,214.63 L121.64,213.77 L121.89,212.96 L122.07,212.35 L122.20,211.61 L122.48,210.36 L122.56,209.99 L122.26,209.13 L122.42,208.07 L122.40,207.51 L122.88,206.59 L122.84,206.32 L122.82,205.48 L123.02,204.76 L123.06,204.14 L123.11,202.93 L123.06,202.21 L123.15,201.87 L123.25,201.06 L123.64,200.09 L123.39,199.18 L123.90,198.56 L123.94,197.62 L123.71,196.99 L123.97,196.13 L124.22,195.58 L124.30,194.66 L124.34,193.86 L124.53,193.16 L124.74,192.67 L124.75,191.60 L124.81,190.90 L125.19,189.92 L125.88,188.96 L126.36,188.23 L126.37,187.84 L127.06,188.64 L127.39,189.10 L127.89,189.25 L127.96,189.85 L128.24,190.74 L128.30,191.69 L128.81,192.72 L128.85,193.47 L128.82,194.43 L128.85,194.82 L128.92,195.48 L128.88,196.36 L129.28,197.09 L129.30,197.91 L129.52,198.65 L129.48,199.73 L129.70,200.58 L129.46,201.10 L129.64,202.12 L129.76,202.84 L130.03,203.58 L130.30,204.41 L130.47,204.90 L130.51,205.98 L130.70,206.47 L130.85,207.44 L130.80,208.00 L131.01,209.11 L131.13,209.93 L131.30,210.31 L131.80,211.39 L131.81,211.96 L132.09,213.02 L132.16,213.63 L132.34,214.63 L132.73,215.30 L132.57,215.96 L132.81,216.86 L132.97,217.66 L133.29,218.43 L133.72,219.16 L133.59,219.72 L133.69,220.94 L134.33,221.60 L134.21,221.89 L134.54,222.59 L134.58,223.60 L134.83,224.18 L135.64,224.86 L135.89,225.54 L136.38,226.02 L136.52,226.73 L136.70,227.28 L136.67,228.06 L137.26,228.75 L137.53,229.46 L137.86,230.49 L138.08,230.75 L138.20,231.70 L138.75,232.25 L139.42,233.54 L139.98,233.95 L140.65,234.56 L141.66,234.78 M153.04,234.77 L153.85,234.65 L154.65,234.54 L155.46,234.42 L156.36,234.62 L157.26,234.81" fill="none" stroke="#151515" stroke-width="1.3" stroke-linejoin="round"/>
<path d="M182.42,235.00 L182.42,235.00 L182.42,234.29 L182.41,233.68 L182.50,232.66 L182.19,232.10 L182.31,231.65 L182.51,230.82 L182.45,230.15 L182.25,229.31 L182.26,228.88 L182.21,228.12 L182.22,227.34 L182.34,226.46 L182.59,225.52 L182.21,225.35 L182.43,224.15 L182.66,223.96 L182.24,222.94 L182.25,222.16 L182.48,221.37 L182.52,220.59 L182.27,220.34 L182.91,220.11 L183.17,219.33 L183.23,218.26 L183.55,218.01 L183.84,217.02 L183.70,216.03 L184.05,215.41 L183.96,214.34 L184.27,213.70 L184.67,212.88 L184.49,212.27 L184.87,211.28 L184.96,210.42 L185.22,209.82 L185.27,208.88 L185.50,208.16 L185.55,207.16 L185.82,206.62 L185.80,205.77 L185.99,204.92 L186.24,204.57 L186.36,203.82 L186.33,203.06 L186.55,201.87 L186.85,201.55 L186.65,200.40 L187.17,199.67 L187.07,198.71 L187.13,198.30 L187.73,197.76 L187.66,196.41 L187.72,196.10 L188.12,195.22 L187.99,194.37 L188.27,193.64 L188.32,193.05 L188.78,191.79 L188.65,191.44 L188.96,190.80 L189.39,189.98 L189.79,189.02 L189.99,189.72 L190.59,190.65 L190.48,191.58 L190.78,192.00 L190.95,193.25 L191.17,193.84 L191.51,194.85 L192.24,193.85 L192.33,194.99 L192.59,195.63 L192.55,196.35 L192.90,197.31 L192.78,198.29 L193.43,199.24 L193.65,200.21 L193.61,200.94 L193.67,201.34 L193.79,202.27 L194.21,203.31 L194.15,204.07 L194.09,204.83 L194.50,205.55 L194.42,206.37 L194.59,207.34 L194.64,207.79 L194.85,208.96 L195.20,209.75 L195.42,210.38 L195.12,211.26 L195.45,211.88 L195.79,212.88 L195.80,213.77 L196.37,214.47 L196.25,215.44 L196.33,216.34 L196.50,217.44 L196.80,218.12 L196.80,218.79 L197.17,219.82 L197.16,220.40 L197.62,221.43 L197.48,222.06 L197.89,222.78 L198.05,223.62 L198.40,224.22 L198.46,224.78 L198.69,225.43 L198.81,226.30 L198.96,227.00 L199.15,228.09 L199.40,228.63 L199.90,229.45 L200.20,230.31 L200.17,231.15 L200.65,231.49 L200.64,232.44 L201.34,233.19 L201.54,233.88 L202.08,234.44 L202.62,235.00 L202.62,235.00 Z" fill="#d4d4d4" stroke="#acacac" stroke-width="0.8" stroke-linejoin="round"/>
<path d="M182.40,235.00 L182.40,170.30 L247.40,170.30 L247.40,235.00" fill="none" stroke="#a4a4a4" stroke-width="1.2"/>
<line x1="182.40" y1="235.00" x2="247.40" y2="235.00" stroke="#5a5a5a" stroke-width="1.3"/>
<path d="M184.94,234.81 L185.83,234.62 L186.73,234.42 L187.40,234.22 L188.08,234.02 L188.75,233.82 L189.41,233.72 L190.15,233.47 L190.96,233.23 L191.28,232.64 L192.09,232.47 L193.01,232.34 L193.45,231.78 L194.00,231.59 L195.01,230.99 L195.46,230.70 L196.21,230.24 L196.62,230.09 L197.41,229.67 L198.37,229.19 L199.04,228.88 L199.31,228.11 L200.27,227.81 L200.46,227.52 L201.27,226.78 L201.72,226.11 L202.24,225.59 L202.80,225.50 L203.08,224.52 L203.76,224.32 L204.07,223.45 L204.69,222.64 L204.83,222.32 L205.50,221.55 L205.87,220.59 L206.04,219.98 L206.26,218.94 L206.24,218.31 L206.75,217.56 L207.00,216.62 L206.87,215.82 L207.06,215.26 L207.37,214.14 L207.36,213.78 L207.58,212.80 L207.39,211.97 L207.78,211.47 L207.73,210.43 L207.94,209.50 L208.36,208.91 L208.24,208.51 L208.54,207.33 L208.75,206.89 L208.72,205.89 L209.01,205.41 L209.08,204.28 L209.33,203.71 L209.51,203.04 L209.55,202.31 L209.59,201.37 L209.92,200.46 L209.81,199.89 L210.20,198.86 L210.39,197.95 L210.72,197.14 L210.64,196.51 L210.96,195.47 L210.96,194.71 L211.32,193.93 L211.70,192.89 L211.70,191.89 L212.60,193.49 L212.96,194.50 L212.95,195.07 L213.42,196.04 L213.48,197.13 L213.52,198.04 L213.77,198.67 L214.16,199.46 L214.35,200.11 L214.28,201.13 L214.78,201.58 L214.54,202.95 L214.68,203.24 L215.06,204.16 L215.31,205.06 L215.52,205.65 L215.40,206.51 L215.89,207.66 L215.88,207.87 L215.94,208.52 L216.58,209.66 L216.74,210.00 L216.52,211.30 L217.02,212.04 L217.29,212.84 L217.05,213.65 L217.51,214.52 L217.52,214.97 L217.67,216.00 L218.08,216.87 L218.26,217.63 L218.38,218.01 L218.45,218.82 L218.65,220.02 L219.20,220.99 L219.44,221.32 L219.37,222.09 L219.66,222.63 L220.08,223.65 L220.13,224.24 L220.43,224.90 L220.65,225.62 L221.05,226.09 L220.83,226.67 L221.30,227.55 L221.67,228.26 L221.93,229.11 L221.93,229.42 L222.35,230.20 L222.37,230.65 L223.10,232.02 L223.46,232.31 L223.52,233.42 L224.42,233.95 L225.10,234.56 L226.11,234.78" fill="none" stroke="#151515" stroke-width="1.3" stroke-linejoin="round"/>
<path d="M255.35,235.00 L255.35,235.00 L255.35,234.28 L255.23,233.67 L255.43,233.04 L255.20,231.95 L255.18,231.22 L255.46,230.44 L255.36,229.77 L255.25,229.18 L255.51,228.56 L255.11,227.64 L255.18,227.27 L255.49,226.51 L255.50,225.75 L255.56,225.06 L255.23,224.37 L255.34,223.59 L255.38,222.67 L255.28,221.95 L255.26,221.04 L255.50,220.73 L255.58,219.94 L255.37,219.25 L255.17,218.49 L255.32,217.47 L255.20,216.95 L255.23,216.19 L255.40,215.43 L255.17,214.76 L255.43,213.80 L255.63,213.07 L255.79,212.44 L256.43,211.47 L256.53,210.99 L256.40,209.75 L256.95,209.40 L257.07,208.22 L257.15,207.87 L257.57,207.07 L257.43,206.33 L257.71,205.48 L257.74,204.88 L258.12,203.98 L258.08,203.17 L258.41,202.41 L258.45,201.74 L258.59,200.74 L258.66,200.22 L258.78,199.20 L258.91,198.70 L259.33,197.87 L259.28,197.04 L259.62,196.06 L259.65,195.84 L259.90,194.65 L260.16,194.06 L260.26,193.21 L260.63,192.76 L260.70,191.79 L261.17,191.49 L261.41,190.52 L261.96,189.61 L262.12,188.92 L262.81,189.83 L262.77,190.56 L263.32,191.07 L263.33,191.97 L263.30,192.77 L263.42,193.65 L263.47,194.52 L264.30,195.40 L264.95,194.28 L265.44,193.72 L265.57,194.61 L265.77,195.12 L266.08,195.71 L266.39,196.46 L266.46,197.29 L266.31,198.16 L266.28,198.78 L266.53,199.73 L266.87,200.83 L266.57,201.33 L266.75,202.30 L266.97,203.16 L267.21,203.51 L267.09,204.39 L267.64,205.14 L267.59,206.08 L267.66,207.14 L267.73,207.90 L268.08,208.84 L268.14,209.64 L268.33,210.33 L268.64,211.38 L269.00,211.85 L268.80,212.94 L269.29,213.78 L269.22,214.88 L269.38,215.19 L269.38,215.95 L269.81,216.78 L269.92,218.02 L270.17,218.77 L270.01,219.44 L270.31,220.28 L270.19,221.12 L270.24,221.65 L270.80,222.56 L270.58,223.56 L270.80,223.89 L270.74,224.86 L271.02,226.07 L271.11,226.83 L271.54,227.37 L271.74,228.39 L271.63,228.90 L271.75,230.09 L271.92,230.47 L271.98,231.45 L272.02,232.31 L272.08,233.37 L272.44,234.09 L272.58,235.00 L272.58,235.00 Z" fill="#d4d4d4" stroke="#acacac" stroke-width="0.8" stroke-linejoin="round"/>
<path d="M254.60,235.00 L254.60,170.30 L319.30,170.30 L319.30,235.00" fill="none" stroke="#a4a4a4" stroke-width="1.2"/>
<line x1="254.60" y1="235.00" x2="319.30" y2="235.00" stroke="#5a5a5a" stroke-width="1.3"/>
<path d="M269.14,234.78 L269.99,234.67 L270.83,234.56 L271.50,234.24 L272.17,233.93 L272.62,233.84 L273.46,232.82 L273.88,232.45 L274.54,232.31 L274.77,231.66 L275.20,230.79 L275.51,230.19 L275.86,229.85 L276.32,228.63 L276.33,228.51 L276.72,227.62 L276.86,227.00 L276.82,226.16 L277.07,225.35 L277.46,224.59 L277.40,224.32 L277.88,223.30 L278.00,222.85 L277.80,222.13 L277.94,221.10 L278.03,220.10 L278.44,219.78 L278.31,218.70 L278.64,218.12 L278.51,217.43 L278.58,216.82 L278.94,215.91 L279.15,214.91 L278.89,214.40 L279.32,213.83 L279.36,212.89 L279.24,212.25 L279.48,211.56 L279.64,210.58 L279.69,209.66 L279.62,209.24 L279.93,208.05 L279.79,207.54 L280.07,206.75 L280.09,206.36 L280.20,205.31 L280.55,204.51 L280.43,203.68 L280.67,203.34 L280.47,202.48 L280.55,201.88 L280.76,200.81 L281.08,200.20 L280.97,199.75 L280.92,198.71 L281.30,197.92 L281.36,197.34 L281.53,196.57 L281.62,195.77 L281.42,194.93 L281.67,194.35 L281.77,193.45 L281.80,192.79 L282.12,192.12 L281.93,191.14 L282.35,190.53 L282.36,189.78 L282.43,188.93 L283.04,188.03 L282.86,187.42 L283.26,186.40 L283.29,185.53 L283.42,185.33 L283.78,184.69 L284.24,183.95 L284.29,184.25 L284.89,184.96 L284.65,185.91 L284.85,186.64 L284.94,187.31 L285.00,188.64 L285.17,189.15 L285.66,190.13 L285.99,191.26 L286.09,191.84 L286.33,192.70 L286.33,193.67 L286.71,194.42 L286.82,195.27 L286.78,196.39 L287.13,196.92 L287.05,197.54 L287.17,198.65 L287.59,199.19 L287.75,199.92 L287.80,201.03 L287.74,201.60 L288.02,202.09 L288.03,203.09 L288.13,204.00 L288.42,204.46 L288.56,205.29 L288.78,206.04 L288.98,206.82 L289.36,207.82 L289.39,208.48 L289.60,209.67 L289.99,210.32 L290.33,210.87 L290.43,211.30 L290.67,211.84 L290.82,212.87 L291.05,213.42 L291.34,214.15 L291.51,214.81 L291.64,215.47 L291.81,216.18 L292.28,216.89 L292.56,217.49 L292.89,218.12 L293.37,218.94 L293.58,219.52 L293.81,220.45 L294.03,220.66 L293.88,221.40 L294.30,222.01 L294.73,222.86 L294.93,223.30 L294.69,224.20 L295.34,224.74 L295.69,225.31 L295.94,226.51 L296.11,226.98 L296.35,227.42 L296.30,228.33 L296.92,228.82 L297.01,229.33 L297.32,230.41 L297.93,231.06 L298.61,231.31 L298.64,232.43 L299.18,232.58 L299.77,233.49 L300.44,233.95 L301.12,234.56 L301.79,234.78" fill="none" stroke="#151515" stroke-width="1.3" stroke-linejoin="round"/>
<path d="M329.02,235.00 L329.02,235.00 L329.04,234.27 L328.87,233.67 L329.15,233.08 L328.99,231.94 L329.24,231.46 L329.05,230.74 L329.11,230.07 L329.00,229.01 L329.40,228.36 L329.11,227.90 L329.31,226.78 L329.29,226.36 L329.13,225.63 L329.28,224.60 L329.42,223.68 L330.02,222.96 L330.20,222.14 L330.37,221.72 L330.77,220.59 L331.08,220.23 L331.04,219.14 L331.53,218.62 L331.35,217.82 L331.52,217.26 L331.81,216.07 L332.11,215.29 L332.01,214.49 L332.34,213.79 L332.34,213.03 L332.42,212.64 L332.55,211.75 L332.63,210.99 L332.79,210.04 L332.84,209.38 L333.13,209.05 L332.85,207.82 L333.23,207.36 L332.97,206.71 L333.49,205.82 L333.27,205.18 L333.63,204.27 L333.40,203.50 L333.63,202.95 L333.52,202.17 L333.49,201.40 L334.01,200.84 L333.75,200.33 L333.86,199.19 L333.78,198.40 L333.93,197.72 L334.33,197.01 L334.10,196.47 L334.49,195.55 L334.49,194.87 L334.47,194.27 L334.73,193.63 L334.59,192.95 L334.60,191.94 L334.96,191.30 L334.94,190.43 L335.16,189.82 L335.00,189.23 L335.26,188.09 L335.32,187.16 L335.45,186.73 L335.58,185.68 L336.20,184.98 L336.63,184.25 L337.38,185.08 L337.65,185.74 L337.74,186.56 L338.17,187.36 L338.33,188.22 L338.51,189.29 L338.51,190.22 L338.79,190.77 L338.63,191.44 L338.87,192.25 L339.32,193.26 L339.04,193.92 L339.59,194.60 L339.28,195.54 L339.53,196.36 L339.83,197.02 L339.95,197.31 L339.97,198.20 L339.75,198.99 L340.06,199.51 L340.08,200.73 L340.19,201.32 L340.17,202.36 L340.23,202.95 L340.49,203.32 L340.74,204.23 L340.81,205.41 L340.85,206.14 L340.68,206.66 L340.82,207.76 L340.83,208.09 L341.43,209.30 L341.48,210.20 L341.55,210.93 L341.70,211.78 L341.71,212.31 L342.14,213.33 L342.26,214.07 L342.71,214.72 L342.53,215.30 L343.03,216.37 L342.99,217.20 L343.05,217.83 L343.30,218.66 L343.75,219.42 L343.53,220.57 L343.91,220.83 L344.12,222.00 L344.26,222.82 L344.31,223.26 L344.62,224.27 L344.81,224.81 L344.87,225.92 L345.09,226.68 L345.35,227.58 L345.50,228.23 L345.95,228.79 L345.85,229.66 L346.05,230.46 L346.33,231.17 L346.67,231.39 L346.97,232.38 L347.25,233.02 L347.50,233.89 L347.87,234.29 L348.54,235.00 L348.54,235.00 Z" fill="#d4d4d4" stroke="#acacac" stroke-width="0.8" stroke-linejoin="round"/>
<path d="M328.60,235.00 L328.60,170.30 L393.80,170.30 L393.80,235.00" fill="none" stroke="#a4a4a4" stroke-width="1.2"/>
<line x1="328.60" y1="235.00" x2="393.80" y2="235.00" stroke="#5a5a5a" stroke-width="1.3"/>
<path d="M330.37,235.00 L331.04,234.63 L331.71,234.26 L332.38,233.88 L332.93,233.10 L333.81,232.65 L334.46,232.06 L334.98,231.70 L335.01,230.66 L335.62,230.49 L335.73,229.34 L336.38,229.14 L336.33,228.00 L336.66,227.84 L336.64,226.81 L337.10,226.36 L337.32,225.61 L337.18,225.14 L337.65,224.41 L337.54,223.33 L337.97,222.95 L337.67,221.70 L337.80,221.30 L337.98,220.25 L338.23,219.98 L338.33,218.71 L338.28,218.09 L338.50,217.29 L338.46,216.63 L338.61,215.82 L338.63,215.30 L339.04,214.44 L338.82,213.74 L338.89,212.84 L339.06,212.56 L339.05,211.58 L339.11,210.77 L339.66,210.32 L339.50,209.24 L339.49,208.68 L339.66,207.77 L339.55,207.35 L340.10,206.72 L339.95,205.65 L339.85,205.27 L340.09,203.99 L340.43,203.60 L340.41,202.80 L340.24,202.22 L340.58,201.31 L340.76,200.37 L340.86,199.86 L340.54,199.27 L340.99,198.51 L340.88,197.63 L341.05,196.95 L341.05,195.84 L341.10,195.24 L341.05,194.38 L341.47,193.82 L341.35,193.25 L341.40,191.97 L341.81,191.74 L342.02,190.81 L341.94,189.82 L342.29,189.29 L342.10,188.68 L342.53,187.99 L342.52,186.93 L342.79,186.11 L343.33,187.43 L343.80,188.08 L343.99,188.61 L343.88,189.38 L344.18,190.17 L344.62,190.81 L344.87,191.63 L344.85,192.71 L345.22,193.23 L345.64,193.93 L345.97,194.76 L345.91,195.01 L346.24,196.18 L346.26,196.86 L346.50,197.73 L346.44,198.05 L346.92,199.29 L347.14,199.99 L346.96,200.56 L346.95,201.29 L347.40,201.87 L347.47,203.15 L347.85,203.83 L348.22,204.80 L348.49,205.19 L348.51,205.90 L348.52,206.89 L348.62,207.54 L349.09,208.77 L349.15,209.18 L349.47,209.98 L349.77,210.71 L349.64,212.06 L350.07,212.50 L349.95,213.51 L350.32,213.94 L350.72,214.76 L350.82,215.77 L350.95,216.32 L351.23,217.64 L350.99,218.05 L351.51,218.84 L351.84,219.50 L351.80,220.45 L352.00,220.90 L352.22,221.21 L352.56,222.13 L352.51,223.04 L353.04,223.68 L353.17,224.26 L353.26,224.86 L353.65,225.54 L353.81,226.15 L353.88,226.70 L354.14,227.84 L354.30,228.13 L354.53,228.81 L355.09,229.44 L355.49,230.18 L355.36,231.14 L355.81,231.57 L356.42,232.16 L356.76,232.68 L357.27,233.45 L357.96,234.29 L358.63,234.53 L359.31,234.76" fill="none" stroke="#151515" stroke-width="1.3" stroke-linejoin="round"/>
<path d="M36.69,310.10 L36.69,310.10 L36.80,309.40 L37.11,308.82 L37.16,308.25 L37.03,307.40 L37.45,306.84 L37.40,305.72 L37.51,305.41 L37.55,304.20 L38.15,303.47 L37.98,302.58 L38.50,301.79 L38.49,301.15 L38.89,300.26 L38.75,299.51 L38.95,298.41 L39.24,297.96 L39.40,297.21 L39.46,296.12 L39.51,295.73 L40.04,294.69 L39.86,293.81 L40.17,293.24 L40.05,292.70 L40.39,291.83 L40.29,291.20 L40.59,290.33 L40.51,289.88 L40.95,288.99 L41.12,288.17 L40.91,287.15 L41.14,286.64 L41.16,286.18 L41.46,284.90 L41.59,284.09 L41.55,283.55 L41.66,283.21 L41.64,282.37 L41.48,281.59 L41.58,280.73 L41.76,279.78 L42.03,279.07 L41.87,278.34 L42.13,277.74 L41.91,276.85 L42.07,276.42 L42.04,275.40 L42.43,274.98 L42.24,274.11 L42.31,273.36 L42.51,272.59 L42.49,271.86 L42.62,271.32 L42.97,270.64 L42.84,269.52 L42.78,269.17 L42.96,268.56 L43.28,267.50 L43.09,266.76 L43.31,265.90 L43.20,265.62 L43.32,264.92 L43.40,264.10 L43.51,262.90 L43.64,262.22 L43.88,261.77 L43.77,261.16 L43.85,260.43 L44.20,258.95 L44.27,258.34 L44.44,259.43 L44.68,260.30 L45.02,260.85 L45.07,261.70 L45.02,262.27 L44.93,263.24 L45.39,263.82 L45.43,264.58 L45.20,265.57 L45.59,265.89 L45.62,266.78 L45.65,267.51 L45.83,268.28 L45.53,268.86 L45.57,269.63 L45.97,270.34 L45.71,271.22 L45.79,272.29 L45.80,272.98 L46.04,273.40 L46.08,274.40 L46.19,275.09 L46.35,275.94 L46.60,276.57 L46.65,277.59 L46.59,278.39 L46.59,279.00 L46.81,279.54 L47.06,280.75 L47.07,281.22 L47.37,282.37 L47.33,282.88 L47.43,283.74 L47.55,284.41 L47.70,285.30 L47.76,285.94 L47.75,286.52 L47.93,287.35 L48.02,288.04 L48.35,288.78 L48.45,289.81 L48.58,290.77 L48.34,291.17 L48.85,292.17 L48.53,292.70 L48.65,293.50 L48.76,294.11 L48.86,295.14 L49.34,295.97 L49.48,296.86 L49.39,297.70 L49.72,298.34 L50.11,299.17 L50.21,300.03 L50.35,300.33 L50.44,301.09 L50.68,301.83 L50.96,302.72 L51.63,303.31 L51.65,303.73 L52.36,304.80 L52.73,305.47 L52.93,305.80 L53.49,306.58 L54.13,307.03 L55.02,307.57 L55.57,308.53 L56.04,308.61 L56.88,309.06 L57.56,309.42 L58.23,309.65 L58.90,309.87 L59.58,310.10 L59.58,310.10 Z" fill="#d4d4d4" stroke="#acacac" stroke-width="0.8" stroke-linejoin="round"/>
<path d="M35.80,310.10 L35.80,244.80 L100.30,244.80 L100.30,310.10" fill="none" stroke="#a4a4a4" stroke-width="1.2"/>
<line x1="35.80" y1="310.10" x2="100.30" y2="310.10" stroke="#5a5a5a" stroke-width="1.3"/>
<path d="M35.80,310.10 L35.80,309.39 L35.81,308.49 L36.02,308.05 L35.84,307.52 L35.60,306.72 L35.67,305.68 L35.71,305.26 L36.01,304.53 L35.71,303.47 L35.70,302.81 L35.80,302.28 L35.62,301.39 L35.98,300.97 L35.61,300.36 L35.78,299.36 L35.95,298.83 L35.77,297.93 L35.82,297.49 L35.90,296.33 L35.57,295.78 L35.70,295.32 L35.85,294.23 L35.76,293.78 L35.79,292.88 L35.89,292.18 L36.04,291.53 L35.80,291.07 L35.73,290.42 L35.83,289.49 L35.67,288.65 L35.81,288.23 L35.63,287.54 L36.00,286.37 L35.87,285.75 L35.61,285.48 L35.68,284.43 L35.90,283.84 L35.99,283.34 L35.78,282.11 L35.96,281.43 L35.73,280.76 L35.96,280.04 L35.95,279.53 L35.85,278.94 L35.73,277.89 L35.92,277.44 L35.76,276.47 L35.64,275.91 L35.89,275.11 L35.57,274.50 L35.67,273.96 L35.90,273.10 L35.60,272.49 L35.78,271.83 L35.94,270.75 L35.70,270.29 L35.62,270.76 L35.93,271.39 L35.71,272.15 L36.04,273.20 L35.98,273.98 L35.73,274.68 L35.81,275.13 L35.69,275.77 L35.84,276.80 L35.91,277.18 L35.97,277.90 L36.08,278.63 L35.81,279.37 L35.99,280.23 L35.86,280.88 L36.05,281.39 L35.90,282.22 L36.14,282.75 L35.90,283.92 L36.03,284.09 L36.05,285.38 L36.05,285.98 L36.22,286.29 L36.26,286.94 L35.89,288.04 L36.06,288.79 L36.08,289.38 L36.15,290.19 L36.32,291.05 L36.11,291.76 L35.96,292.31 L36.24,292.62 L36.10,293.73 L36.00,294.25 L36.32,294.84 L36.27,295.45 L36.08,296.17 L36.28,297.07 L36.42,297.97 L36.61,298.23 L36.68,299.49 L37.07,298.59 L37.55,297.64 L38.00,297.09 L38.11,296.80 L38.23,295.97 L38.61,295.32 L39.03,294.64 L39.45,293.92 L39.98,293.28 L40.26,292.29 L40.59,291.89 L40.64,291.10 L41.12,290.41 L41.56,289.53 L41.99,289.36 L42.05,288.07 L42.70,287.51 L43.12,286.77 L43.49,286.19 L43.99,285.55 L44.64,285.10 L45.66,284.61 L46.29,284.60 L46.89,285.05 L47.28,285.23 L47.91,285.68 L48.66,286.02 L49.14,286.66 L49.30,287.35 L49.95,288.27 L50.15,289.03 L50.52,289.89 L50.85,290.58 L50.87,291.10 L51.00,291.54 L51.17,292.49 L51.42,293.39 L51.89,293.71 L52.03,294.56 L52.01,295.20 L52.08,295.71 L52.54,296.57 L52.81,297.41 L53.12,298.04 L53.16,298.49 L53.26,299.11 L53.34,299.75 L53.74,300.44 L53.78,301.32 L54.16,301.94 L54.36,302.62 L54.83,303.51 L55.12,303.91 L55.88,304.82 L56.27,305.94 L56.69,305.96 L56.96,306.88 L57.35,307.43 L58.01,307.60 L58.92,308.38 L59.16,309.07 L60.12,309.49 L60.92,310.10" fill="none" stroke="#151515" stroke-width="1.3" stroke-linejoin="round"/>
<path d="M109.96,310.10 L109.96,310.10 L110.23,309.38 L110.34,308.78 L110.83,307.93 L110.87,307.28 L111.39,306.27 L111.48,305.26 L111.47,304.50 L111.94,303.51 L112.23,302.80 L112.15,301.88 L112.70,301.49 L112.83,300.61 L112.58,299.67 L112.96,298.77 L113.33,298.15 L113.10,297.65 L113.24,296.95 L113.55,295.95 L113.66,295.14 L113.65,294.14 L114.05,293.53 L114.09,292.78 L114.25,292.45 L114.22,291.64 L114.21,290.89 L114.06,290.00 L114.48,289.10 L114.59,288.78 L114.42,287.73 L114.52,287.01 L114.84,286.28 L114.44,285.38 L114.83,285.20 L114.79,284.17 L114.87,283.60 L114.78,282.79 L115.00,282.08 L114.88,281.08 L115.02,280.81 L115.09,279.89 L115.13,278.87 L115.08,278.57 L115.48,277.58 L115.49,277.04 L115.65,276.49 L115.46,275.79 L115.78,274.84 L115.80,274.06 L115.61,273.19 L115.90,272.43 L115.57,272.09 L115.96,271.18 L116.05,270.21 L115.82,269.63 L115.95,268.84 L115.84,268.22 L116.29,267.89 L116.27,266.87 L116.10,266.44 L116.29,265.57 L116.11,264.54 L116.56,264.16 L116.65,263.32 L116.49,262.58 L116.76,261.70 L116.67,260.95 L116.84,260.07 L116.86,259.91 L116.61,258.97 L116.97,258.40 L117.00,257.32 L117.08,256.93 L117.48,255.63 L117.25,254.79 L117.38,254.20 L117.60,253.64 L118.52,253.87 L118.63,254.83 L118.78,255.61 L118.79,256.43 L119.06,257.59 L119.21,257.94 L119.37,259.18 L119.47,259.88 L119.18,260.43 L119.28,261.36 L119.41,262.08 L119.52,262.81 L119.62,263.17 L119.74,264.08 L120.06,264.82 L119.94,265.72 L120.23,266.20 L120.14,267.19 L120.27,268.21 L120.15,268.80 L120.32,269.46 L120.18,270.36 L120.69,270.84 L120.45,271.97 L120.42,272.16 L120.48,273.36 L120.89,273.88 L120.89,274.37 L120.98,275.38 L120.99,276.09 L121.01,276.74 L120.92,277.61 L121.09,278.52 L121.44,279.28 L121.34,279.74 L121.38,280.64 L121.57,281.67 L121.38,282.13 L121.65,283.02 L121.92,283.80 L121.87,284.54 L121.98,285.35 L122.08,285.99 L121.95,286.88 L122.11,287.44 L122.41,288.40 L122.58,288.58 L122.35,289.51 L122.47,290.15 L122.64,290.86 L122.67,292.15 L123.04,292.63 L122.89,293.70 L123.33,294.02 L123.31,295.05 L123.63,295.59 L123.91,296.39 L123.79,297.51 L123.96,298.22 L124.19,298.98 L124.45,299.66 L124.98,300.52 L125.01,301.28 L125.20,301.69 L125.52,302.42 L125.70,303.51 L125.89,304.09 L126.76,304.70 L126.76,305.25 L127.21,305.99 L127.96,306.44 L128.13,307.13 L128.68,307.49 L129.36,308.35 L129.82,308.40 L130.56,308.93 L131.23,309.24 L131.90,309.56 L132.91,309.83 L133.92,310.10 L133.92,310.10 Z" fill="#d4d4d4" stroke="#acacac" stroke-width="0.8" stroke-linejoin="round"/>
<path d="M109.70,310.10 L109.70,244.80 L174.50,244.80 L174.50,310.10" fill="none" stroke="#a4a4a4" stroke-width="1.2"/>
<line x1="109.70" y1="310.10" x2="174.50" y2="310.10" stroke="#5a5a5a" stroke-width="1.3"/>
<path d="M110.37,309.87 L111.04,309.65 L111.71,309.42 L112.19,308.93 L113.01,308.59 L113.56,307.55 L114.17,306.60 L114.57,305.88 L114.68,305.40 L114.93,304.37 L115.12,303.21 L115.12,302.91 L115.47,301.86 L115.31,301.05 L115.49,300.16 L115.83,299.73 L115.72,298.70 L115.71,298.09 L115.71,297.30 L115.91,296.79 L116.26,295.61 L115.98,295.37 L115.99,294.27 L116.33,293.70 L116.24,293.10 L116.55,291.92 L116.62,291.41 L116.59,290.79 L116.74,290.20 L116.59,289.09 L116.67,288.35 L117.03,288.03 L116.90,287.19 L117.16,286.57 L117.22,285.68 L117.29,284.80 L117.26,284.04 L117.23,283.38 L117.33,282.43 L117.37,282.00 L117.66,281.40 L117.35,280.49 L117.71,279.58 L117.82,278.83 L117.79,278.42 L117.99,277.58 L117.73,276.74 L117.77,276.11 L117.97,275.37 L117.83,275.00 L117.83,274.34 L117.98,273.51 L118.26,272.90 L118.33,271.62 L118.38,271.47 L118.45,270.49 L118.14,269.47 L118.29,269.17 L118.30,268.36 L118.64,267.64 L118.69,267.06 L118.75,265.86 L118.78,265.48 L118.92,264.56 L118.65,263.72 L118.86,263.06 L119.08,262.59 L118.95,261.71 L118.88,260.86 L119.32,260.16 L119.22,259.68 L119.38,258.71 L119.27,257.97 L119.20,257.39 L119.47,256.61 L119.48,256.00 L119.38,255.43 L119.45,254.41 L119.86,253.43 L119.66,252.69 L119.73,252.28 L120.10,251.76 L120.07,250.96 L120.10,249.94 L120.44,248.83 L120.50,248.19 L120.35,247.76 L120.43,246.94 L120.68,247.32 L120.96,248.09 L120.96,249.11 L121.22,249.90 L120.94,250.69 L121.28,251.57 L121.32,252.66 L121.46,253.39 L121.34,253.73 L121.54,254.58 L121.72,255.55 L121.70,256.09 L121.67,257.21 L121.84,257.66 L121.86,258.52 L122.07,259.34 L121.77,259.76 L121.88,260.95 L122.02,261.20 L122.21,262.20 L122.07,262.71 L122.36,263.72 L122.53,264.26 L122.32,265.37 L122.55,265.74 L122.38,266.77 L122.53,267.07 L122.61,268.36 L122.69,268.78 L122.69,269.33 L122.99,270.09 L122.83,271.03 L122.82,271.51 L122.78,272.74 L123.27,273.27 L123.35,274.20 L123.27,274.53 L123.11,275.17 L123.41,275.90 L123.56,277.02 L123.59,277.63 L123.68,278.37 L123.51,279.38 L123.47,280.07 L123.81,280.87 L124.05,281.14 L123.91,282.13 L124.10,282.64 L124.32,283.37 L124.00,284.63 L124.34,285.39 L124.35,286.21 L124.73,286.47 L124.53,287.21 L124.74,287.99 L124.93,288.85 L125.10,289.72 L124.93,290.37 L125.35,291.27 L125.42,292.03 L125.57,292.64 L125.68,293.39 L125.95,294.15 L125.92,294.89 L125.81,296.17 L126.45,296.49 L126.33,297.50 L126.39,298.33 L126.73,299.13 L127.10,299.82 L127.00,300.63 L127.30,301.19 L127.74,301.60 L128.08,302.83 L128.13,303.01 L128.38,304.07 L128.77,304.82 L129.07,305.42 L129.45,305.81 L129.62,306.78 L130.19,307.17 L130.91,307.53 L131.50,308.14 L131.93,308.92 L132.58,309.29 L133.25,309.69 L133.92,310.10" fill="none" stroke="#151515" stroke-width="1.3" stroke-linejoin="round"/>
<path d="M183.37,310.10 L183.37,310.10 L183.53,309.39 L183.92,308.47 L183.64,308.28 L183.89,307.04 L184.33,306.37 L184.66,305.49 L184.91,304.74 L184.95,304.30 L185.20,303.49 L185.35,302.19 L185.57,301.75 L185.43,300.74 L185.82,300.20 L186.00,299.55 L186.14,298.66 L186.15,297.91 L186.00,297.39 L186.09,296.55 L186.46,295.73 L186.13,295.10 L186.44,293.99 L186.21,293.46 L186.26,292.96 L186.55,291.98 L186.56,291.33 L186.87,290.39 L186.67,289.82 L186.69,289.10 L186.86,288.28 L186.97,287.61 L186.74,287.17 L186.92,286.10 L186.99,285.68 L187.31,284.70 L187.10,283.73 L187.39,283.05 L187.27,282.43 L187.22,281.71 L187.20,280.79 L187.42,280.52 L187.54,279.45 L187.62,278.64 L187.55,278.39 L187.86,277.45 L187.88,276.76 L187.79,276.09 L188.08,275.47 L187.89,274.74 L188.04,273.80 L188.17,273.36 L188.15,272.71 L187.93,271.73 L188.29,270.92 L188.13,270.41 L188.31,269.44 L188.22,269.11 L188.45,267.85 L188.48,267.19 L188.88,266.39 L188.69,265.60 L188.87,264.91 L188.90,264.48 L189.27,263.79 L188.93,262.77 L189.48,261.78 L189.33,261.27 L189.57,260.64 L189.89,259.68 L189.82,258.76 L189.98,257.87 L190.85,257.26 L191.18,258.22 L191.01,258.81 L191.49,259.21 L191.52,259.96 L191.74,260.70 L191.76,262.04 L191.95,262.35 L191.88,263.05 L191.87,264.24 L192.18,264.49 L192.06,265.62 L192.02,266.45 L192.43,267.04 L192.23,267.95 L192.37,268.29 L192.31,269.01 L192.65,269.95 L192.64,270.87 L192.83,271.23 L192.62,272.37 L192.85,272.81 L192.86,273.43 L192.69,274.08 L192.85,274.93 L192.98,276.10 L192.87,276.59 L193.27,277.35 L193.17,278.18 L192.99,279.02 L193.37,279.67 L193.50,279.98 L193.19,280.77 L193.46,281.96 L193.73,282.39 L193.67,283.33 L193.61,284.22 L193.97,284.82 L194.03,285.61 L193.98,286.07 L193.88,286.77 L193.85,287.93 L194.04,288.14 L194.14,288.95 L194.30,289.86 L194.27,290.72 L194.48,291.41 L194.77,292.15 L194.73,293.27 L195.03,293.73 L194.75,294.89 L195.14,295.25 L195.11,296.07 L195.36,296.82 L195.40,298.14 L195.93,298.42 L195.93,299.64 L196.10,300.01 L196.18,301.01 L196.62,301.93 L196.62,302.64 L196.64,303.34 L197.22,304.01 L197.22,304.45 L197.26,305.00 L197.78,305.90 L198.53,306.43 L198.83,307.35 L199.36,307.52 L199.95,308.40 L200.10,308.73 L200.87,309.49 L201.54,310.10 L201.54,310.10 Z" fill="#d4d4d4" stroke="#acacac" stroke-width="0.8" stroke-linejoin="round"/>
<path d="M181.90,310.10 L181.90,244.80 L246.40,244.80 L246.40,310.10" fill="none" stroke="#a4a4a4" stroke-width="1.2"/>
<line x1="181.90" y1="310.10" x2="246.40" y2="310.10" stroke="#5a5a5a" stroke-width="1.3"/>
<path d="M182.15,310.10 L182.15,309.40 L182.16,308.76 L182.06,308.26 L182.26,307.45 L182.13,306.80 L182.27,305.95 L181.96,305.16 L182.38,304.53 L182.10,303.87 L181.98,302.99 L182.29,302.37 L182.10,301.97 L182.16,300.96 L181.95,300.34 L182.15,299.46 L182.36,298.96 L182.17,298.40 L182.10,297.77 L182.24,296.71 L182.13,296.36 L182.21,295.09 L182.32,294.63 L182.06,293.97 L182.01,293.38 L182.21,292.55 L182.14,291.78 L182.25,291.38 L181.94,290.55 L182.30,290.07 L182.29,289.34 L182.22,288.58 L182.27,287.52 L182.26,287.04 L182.17,286.11 L182.37,285.75 L182.29,284.71 L182.00,283.98 L182.10,283.37 L182.27,282.70 L182.39,281.80 L182.10,281.59 L182.15,280.76 L182.32,280.04 L182.00,278.99 L182.38,278.51 L182.16,277.62 L182.16,277.07 L181.99,276.56 L182.24,275.82 L182.31,275.33 L182.32,274.10 L182.17,273.75 L182.34,272.98 L182.13,272.12 L182.02,271.75 L181.92,270.99 L182.38,269.88 L182.00,269.32 L182.30,268.93 L182.35,268.11 L182.16,267.34 L182.18,266.78 L182.05,266.19 L182.00,265.53 L182.14,264.26 L181.96,263.94 L182.35,262.89 L181.93,262.34 L182.29,261.55 L182.11,260.90 L181.91,260.10 L182.08,259.71 L182.25,259.03 L182.35,258.29 L182.22,257.66 L182.06,257.13 L181.98,256.37 L182.14,255.27 L182.08,254.77 L181.99,253.77 L182.04,253.60 L182.28,252.54 L182.25,251.75 L181.98,251.19 L182.08,250.81 L181.96,249.98 L181.96,249.39 L182.27,248.69 L182.23,247.49 L182.37,247.28 L182.25,246.45 L182.24,245.57 L182.05,246.17 L182.20,246.91 L182.23,247.61 L181.96,248.65 L182.23,249.18 L182.28,250.13 L182.20,250.46 L182.42,251.03 L182.18,252.05 L182.06,252.57 L182.43,253.65 L182.05,254.27 L182.42,254.88 L182.38,255.32 L182.12,255.99 L182.21,257.04 L182.13,257.53 L182.31,258.57 L182.39,259.06 L182.02,259.75 L182.05,260.66 L182.05,261.41 L182.04,261.82 L182.29,262.65 L182.18,263.02 L182.20,264.11 L182.22,264.99 L182.32,265.40 L182.04,265.91 L182.16,267.08 L182.47,267.53 L182.16,268.09 L182.30,269.03 L182.18,269.83 L182.25,270.21 L182.12,271.20 L182.41,272.07 L182.23,272.38 L182.48,273.09 L182.25,274.04 L182.14,274.54 L182.12,275.61 L182.37,276.25 L182.21,276.87 L182.36,277.47 L182.41,278.00 L182.40,278.94 L182.13,279.47 L182.25,280.17 L182.55,280.71 L182.34,281.79 L182.59,282.38 L182.16,283.20 L182.35,283.55 L182.15,284.48 L182.37,285.55 L182.18,285.72 L182.24,286.77 L182.49,287.20 L182.25,288.33 L182.17,288.85 L182.51,289.38 L182.60,290.37 L182.49,290.65 L182.30,291.59 L182.51,292.55 L182.19,293.07 L182.59,293.81 L182.61,294.72 L182.19,295.45 L182.61,296.15 L182.76,297.14 L183.12,297.59 L183.47,298.45 L184.21,299.23 L185.38,299.05 L186.02,299.34 L186.61,300.03 L187.26,299.93 L188.06,300.38 L188.96,301.00 L189.44,300.41 L190.19,299.91 L190.80,299.12 L192.35,297.96 L192.45,298.63 L193.41,299.37 L193.91,298.94 L195.31,299.47 L195.94,298.47 L196.69,299.00 L197.46,299.67 L197.95,300.45 L198.33,300.93 L198.82,300.98 L199.52,301.53 L200.07,302.31 L200.55,302.65 L201.33,302.31 L201.79,303.02 L202.82,303.24 L203.92,303.13 L204.57,303.14 L205.26,303.74 L206.15,304.22 L206.82,304.23 L207.77,305.27 L208.44,304.69 L209.61,304.03 L209.93,305.09 L210.91,305.50 L211.27,306.63 L211.73,306.84 L212.91,307.64 L213.75,307.78 L214.37,307.65 L215.05,307.91 L216.05,308.21 L217.12,308.22 L217.71,308.44 L218.71,309.03 L219.71,309.02 L220.72,309.15 L221.73,309.29 L222.40,309.56 L223.08,309.83" fill="none" stroke="#151515" stroke-width="1.3" stroke-linejoin="round"/>
<path d="M255.62,310.10 L255.62,310.10 L255.72,309.39 L256.02,308.95 L256.11,307.73 L256.06,307.22 L256.22,306.24 L256.25,305.62 L256.45,304.82 L256.54,303.79 L257.06,303.18 L257.12,302.60 L257.20,301.43 L257.56,300.98 L257.65,300.23 L257.96,299.30 L258.01,298.54 L258.07,297.94 L258.05,296.86 L258.22,296.51 L258.38,295.61 L258.50,294.72 L258.37,294.07 L258.78,293.26 L258.54,292.47 L258.60,291.84 L258.95,291.43 L258.94,290.43 L259.01,289.65 L259.32,289.07 L259.14,288.08 L259.47,287.72 L259.56,286.71 L259.50,286.40 L259.59,285.69 L259.46,284.98 L259.48,283.92 L259.54,283.43 L259.93,282.80 L260.06,282.07 L260.00,281.36 L260.18,280.25 L260.34,279.55 L260.01,278.64 L260.20,277.99 L260.47,277.72 L260.18,276.48 L260.38,275.80 L260.44,275.46 L260.35,274.50 L260.72,273.79 L260.50,273.33 L260.78,272.61 L260.77,271.60 L260.82,271.12 L260.85,270.04 L260.74,269.42 L261.02,268.78 L260.96,268.22 L260.80,267.38 L260.96,266.61 L261.25,265.70 L261.36,264.87 L261.23,264.42 L261.12,263.71 L261.29,262.92 L261.46,261.93 L261.34,261.67 L261.32,260.96 L261.43,260.09 L261.50,259.20 L261.70,258.22 L261.92,257.70 L262.00,256.98 L262.02,256.22 L261.98,255.68 L262.10,255.00 L262.70,254.09 L262.88,253.53 L263.02,254.20 L263.11,255.13 L263.33,256.39 L263.42,256.80 L263.53,257.80 L263.64,258.39 L263.60,258.97 L263.60,259.69 L263.76,260.81 L263.95,261.12 L264.00,261.87 L264.13,262.81 L264.33,263.44 L264.39,264.16 L264.51,265.13 L264.12,265.97 L264.29,266.43 L264.29,267.45 L264.33,268.13 L264.54,268.83 L264.55,269.20 L264.91,270.28 L264.61,271.21 L265.04,271.48 L264.69,272.49 L264.82,273.31 L265.05,274.04 L265.18,274.82 L265.37,275.47 L265.34,276.05 L265.19,276.66 L265.61,277.48 L265.50,278.31 L265.69,279.21 L265.90,279.92 L265.76,280.82 L266.04,281.76 L265.93,282.50 L266.35,283.33 L266.03,283.74 L266.44,284.78 L266.18,285.28 L266.61,286.27 L266.61,286.71 L266.65,287.39 L266.70,288.38 L267.08,289.28 L267.02,289.89 L267.10,290.95 L267.30,291.46 L267.62,292.51 L267.84,293.25 L267.83,293.96 L267.98,295.02 L268.31,295.64 L268.20,296.05 L268.55,297.01 L268.48,297.58 L268.50,298.59 L269.14,299.61 L269.20,300.37 L269.18,300.88 L269.53,301.62 L269.76,302.57 L269.97,303.00 L269.98,303.89 L270.25,304.66 L270.69,305.32 L271.26,305.99 L271.52,306.41 L272.10,307.47 L272.74,307.63 L273.52,308.37 L274.33,308.54 L274.87,308.97 L275.54,309.29 L276.21,309.49 L276.88,309.69 L277.56,309.90 L278.23,310.10 L278.23,310.10 Z" fill="#d4d4d4" stroke="#acacac" stroke-width="0.8" stroke-linejoin="round"/>
<path d="M254.60,310.10 L254.60,244.80 L319.50,244.80 L319.50,310.10" fill="none" stroke="#a4a4a4" stroke-width="1.2"/>
<line x1="254.60" y1="310.10" x2="319.50" y2="310.10" stroke="#5a5a5a" stroke-width="1.3"/>
<path d="M264.10,309.83 L264.77,309.56 L265.44,309.29 L265.90,308.37 L266.74,307.71 L267.32,306.99 L267.48,306.50 L267.97,305.72 L268.06,305.15 L268.25,304.11 L268.58,303.32 L268.89,302.47 L268.99,301.85 L269.43,300.83 L269.23,300.44 L269.33,299.71 L269.76,298.51 L270.05,298.01 L269.92,297.26 L269.97,296.37 L270.24,295.72 L270.26,294.71 L270.59,294.01 L270.67,293.31 L270.77,292.70 L270.78,291.81 L270.81,290.68 L271.08,290.03 L271.20,289.72 L271.22,288.52 L271.15,287.91 L271.12,287.20 L271.45,286.38 L271.35,285.48 L271.65,284.69 L271.61,284.07 L271.78,283.62 L272.06,282.82 L272.18,282.27 L272.10,281.08 L272.12,280.30 L272.45,279.71 L272.43,278.73 L272.29,278.01 L272.51,277.30 L272.68,276.54 L272.92,275.53 L272.91,274.87 L273.12,274.25 L273.28,273.64 L273.52,273.06 L273.88,272.56 L274.15,271.45 L274.72,270.55 L275.20,271.68 L276.17,271.15 L276.24,271.73 L276.70,272.19 L276.76,273.03 L277.34,274.02 L277.30,275.12 L277.25,276.00 L277.76,276.88 L277.64,277.30 L278.05,278.34 L278.00,279.29 L278.00,279.63 L277.99,280.78 L278.20,281.69 L278.50,282.54 L278.58,282.92 L278.91,283.43 L279.05,284.61 L279.31,284.84 L279.71,285.76 L280.05,286.64 L280.17,287.11 L280.39,287.91 L280.43,288.87 L280.86,289.52 L280.64,290.40 L281.16,291.62 L280.91,292.23 L280.99,292.89 L281.25,293.83 L281.70,294.83 L281.68,295.66 L281.82,296.47 L282.13,297.03 L282.43,297.89 L282.53,298.46 L282.68,299.19 L282.83,299.95 L283.40,300.71 L283.47,301.21 L283.71,301.66 L283.67,302.77 L284.09,303.33 L284.39,303.82 L284.82,304.48 L285.17,305.44 L285.26,306.21 L285.56,306.54 L286.17,307.38 L286.42,307.80 L286.92,308.60 L287.38,308.61 L288.15,309.15 L288.73,309.56 L289.49,309.74 L290.26,309.92" fill="none" stroke="#151515" stroke-width="1.3" stroke-linejoin="round"/>
<path d="M330.40,310.10 L330.40,310.10 L330.56,309.39 L330.82,308.89 L330.73,308.28 L330.89,307.37 L331.11,306.75 L331.41,306.05 L331.95,305.41 L332.09,304.80 L332.57,303.67 L332.57,303.51 L332.90,302.52 L332.92,302.16 L333.04,301.37 L333.63,300.33 L333.51,299.65 L333.75,298.92 L334.05,298.49 L333.91,297.70 L333.93,296.45 L334.35,296.10 L334.56,295.45 L334.66,294.28 L334.69,293.94 L334.47,292.95 L334.58,292.00 L334.82,291.58 L335.15,290.53 L335.01,290.31 L335.22,289.30 L335.05,288.62 L335.15,287.90 L335.42,287.01 L335.55,286.29 L335.46,285.83 L335.41,284.71 L335.63,284.14 L335.84,283.30 L335.66,282.46 L335.76,281.89 L335.82,281.44 L335.68,280.85 L336.07,280.02 L336.05,279.15 L336.05,278.32 L336.02,277.54 L336.12,276.83 L336.47,276.38 L336.41,275.19 L336.29,274.78 L336.56,273.98 L336.59,273.55 L336.48,272.51 L336.78,271.75 L336.82,271.07 L336.54,270.38 L336.63,269.85 L337.07,268.97 L337.15,268.06 L337.03,267.29 L336.92,266.93 L337.02,266.25 L337.35,265.36 L337.19,264.74 L337.64,263.51 L337.44,262.78 L337.68,262.00 L337.91,261.50 L338.07,260.68 L338.25,260.13 L338.45,259.43 L338.81,259.02 L339.54,258.04 L339.40,258.77 L339.54,260.10 L339.78,260.88 L339.93,261.57 L340.01,262.13 L340.33,263.06 L340.50,263.59 L340.25,264.23 L340.29,265.53 L340.54,265.97 L340.50,266.89 L340.75,267.28 L340.51,268.03 L340.94,269.12 L340.72,269.57 L340.82,270.58 L341.09,271.07 L340.95,271.81 L341.30,272.75 L341.36,273.31 L341.27,274.25 L341.48,274.88 L341.20,275.90 L341.61,276.46 L341.37,276.96 L341.48,278.21 L341.50,278.67 L341.66,279.29 L341.50,280.21 L341.97,281.17 L341.71,281.86 L342.04,282.49 L341.89,283.01 L342.13,284.05 L341.97,284.47 L342.00,285.63 L342.44,286.19 L342.38,287.05 L342.24,287.69 L342.46,288.64 L342.42,289.40 L342.50,290.03 L342.96,290.48 L342.86,291.20 L342.97,292.26 L343.28,293.03 L343.35,293.95 L343.43,294.49 L343.19,295.43 L343.31,296.19 L343.46,296.95 L343.86,297.93 L343.70,298.23 L343.92,299.48 L344.03,299.99 L344.28,300.54 L344.55,301.50 L344.70,302.57 L344.98,303.08 L345.28,303.99 L345.64,304.41 L345.71,305.56 L346.14,306.19 L346.71,306.98 L347.40,307.83 L348.00,308.59 L348.54,308.93 L349.21,309.52 L349.88,310.10 L350.89,310.10 L351.90,310.10 L351.90,310.10 Z" fill="#d4d4d4" stroke="#acacac" stroke-width="0.8" stroke-linejoin="round"/>
<path d="M330.40,310.10 L330.40,244.80 L395.30,244.80 L395.30,310.10" fill="none" stroke="#a4a4a4" stroke-width="1.2"/>
<line x1="330.40" y1="310.10" x2="395.30" y2="310.10" stroke="#5a5a5a" stroke-width="1.3"/>
<path d="M330.40,310.10 L330.40,309.36 L330.62,308.66 L330.24,308.17 L330.36,307.33 L330.18,306.22 L330.62,305.88 L330.17,304.94 L330.36,304.05 L330.21,303.37 L330.23,302.56 L330.57,301.92 L330.30,301.21 L330.21,300.78 L330.45,301.38 L330.72,301.80 L330.56,302.77 L330.69,303.59 L330.58,304.06 L330.66,305.20 L330.90,305.75 L330.73,306.70 L330.74,307.21 L331.12,308.21 L331.37,308.94 L331.48,309.39 L331.71,310.10 M333.73,310.10 L334.54,309.49 L335.19,308.90 L335.72,308.61 L336.39,307.82 L337.19,307.25 L337.42,306.58 L337.81,306.01 L338.21,305.23 L338.40,304.37 L338.44,303.79 L339.11,303.21 L338.95,302.54 L339.45,302.08 L339.50,301.28 L339.57,300.74 L339.89,299.54 L339.95,299.19 L340.44,298.05 L340.63,297.30 L340.35,296.41 L340.55,296.05 L340.90,295.40 L340.83,294.21 L341.25,293.65 L341.17,293.07 L341.04,291.89 L341.19,291.33 L341.30,290.69 L341.56,289.84 L341.59,289.13 L341.93,288.70 L342.11,287.41 L342.01,287.12 L342.23,286.28 L341.97,285.49 L342.39,284.58 L342.25,284.00 L342.23,283.10 L342.36,282.68 L342.60,282.17 L342.44,281.05 L342.43,280.46 L342.81,279.82 L342.73,279.27 L343.03,278.52 L342.79,277.67 L342.72,276.90 L342.88,276.11 L343.30,275.25 L343.01,274.75 L343.01,273.79 L343.40,272.97 L343.44,272.43 L343.33,272.00 L343.40,270.77 L343.53,270.26 L343.70,269.59 L343.74,268.99 L343.73,268.33 L343.79,267.16 L343.60,266.43 L343.82,266.22 L343.74,264.98 L343.77,264.57 L344.15,264.00 L343.82,262.85 L344.06,262.29 L344.32,261.54 L344.35,261.11 L344.42,259.86 L344.38,259.33 L344.59,258.91 L344.26,257.68 L344.52,257.18 L344.44,256.13 L344.50,255.55 L344.55,254.87 L344.76,254.10 L344.96,253.34 L344.83,252.60 L345.33,251.97 L345.37,251.17 L345.67,250.02 L345.61,249.37 L345.86,250.56 L345.75,251.46 L346.08,251.78 L346.14,252.92 L346.35,253.91 L346.41,254.54 L346.27,254.92 L346.47,255.79 L346.62,256.74 L346.62,257.58 L346.84,258.29 L346.61,258.84 L346.83,259.85 L346.78,260.51 L346.78,261.31 L347.16,261.95 L346.86,262.56 L347.36,263.51 L347.25,264.46 L347.29,265.03 L347.49,265.71 L347.48,266.16 L347.61,267.40 L347.33,267.58 L347.62,268.47 L347.62,269.31 L347.44,269.92 L347.93,270.78 L347.82,271.79 L347.70,272.21 L347.88,273.16 L347.97,273.99 L348.22,274.70 L348.00,275.18 L347.94,276.02 L348.05,276.64 L348.33,277.65 L348.19,277.90 L348.48,278.60 L348.29,279.34 L348.75,280.40 L348.60,280.95 L348.57,281.91 L348.80,282.52 L348.68,283.30 L348.86,284.07 L348.96,284.63 L349.16,285.61 L348.93,286.31 L349.13,287.28 L349.16,288.06 L349.54,288.41 L349.64,289.30 L349.75,289.85 L349.42,290.59 L349.74,291.71 L349.64,292.09 L349.99,293.08 L349.73,293.75 L350.15,294.59 L349.90,295.40 L350.26,296.02 L350.34,296.61 L350.53,297.79 L350.52,298.35 L350.56,299.05 L350.61,299.93 L351.06,300.70 L350.93,301.33 L351.37,302.37 L351.32,303.16 L351.70,303.98 L352.21,304.41 L352.39,305.25 L352.60,305.81 L353.24,306.86 L353.66,307.19 L353.89,308.14 L354.38,308.53 L355.12,308.86 L355.54,309.29 L356.41,309.69 L357.29,310.10" fill="none" stroke="#151515" stroke-width="1.3" stroke-linejoin="round"/>
<path d="M36.69,384.40 L36.69,384.40 L36.86,383.62 L37.05,382.71 L36.97,382.14 L37.23,381.12 L37.50,380.55 L37.98,379.63 L38.17,379.14 L38.00,377.78 L38.14,377.44 L38.51,376.71 L38.84,375.78 L38.79,374.66 L38.69,374.34 L39.16,373.54 L39.26,372.72 L39.45,372.08 L39.32,371.09 L39.53,370.55 L39.92,369.45 L39.66,368.70 L39.89,368.27 L40.06,367.51 L40.13,366.63 L40.19,365.95 L40.47,365.33 L40.76,364.39 L40.43,363.91 L40.93,362.90 L40.80,362.44 L40.77,361.30 L41.07,360.81 L41.15,360.17 L41.15,359.19 L41.10,358.33 L41.26,357.73 L41.52,357.11 L41.49,356.23 L41.64,355.50 L41.80,354.92 L41.84,354.03 L41.84,353.50 L42.14,352.65 L41.92,352.01 L41.91,351.07 L41.95,350.46 L42.14,349.63 L42.48,349.04 L42.21,348.18 L42.29,347.66 L42.61,346.93 L42.59,346.16 L42.62,345.44 L42.83,344.22 L43.17,343.93 L42.92,343.03 L43.14,342.02 L43.23,341.75 L43.33,340.85 L43.62,340.08 L43.67,339.40 L43.66,338.37 L43.82,337.38 L43.96,337.00 L44.20,335.81 L44.24,335.15 L44.38,334.14 L44.88,333.24 L44.92,332.60 L45.45,331.85 L45.87,332.85 L46.24,333.65 L46.33,334.28 L46.25,335.11 L46.28,335.67 L46.66,336.68 L46.50,337.37 L46.84,338.03 L46.93,338.73 L46.78,339.64 L46.91,340.57 L47.05,341.06 L47.32,342.13 L47.37,342.45 L47.20,343.19 L47.50,344.15 L47.27,345.18 L47.33,345.40 L47.80,346.39 L47.86,347.22 L47.59,347.90 L47.96,348.37 L48.04,349.32 L47.99,350.05 L48.20,350.90 L48.11,351.39 L48.32,352.21 L48.33,352.85 L48.17,353.97 L48.33,354.70 L48.60,355.31 L48.60,356.07 L48.44,357.10 L48.75,357.86 L48.87,358.46 L48.71,359.21 L48.95,359.75 L48.89,360.44 L48.96,361.47 L49.22,361.90 L49.38,363.10 L49.64,363.37 L49.58,364.44 L49.61,365.04 L49.71,365.79 L49.79,366.46 L50.05,367.64 L50.30,368.12 L50.06,368.81 L50.08,369.83 L50.25,370.50 L50.78,371.41 L50.84,372.23 L51.01,373.05 L51.19,373.48 L51.11,374.69 L51.31,375.23 L51.90,376.09 L52.05,376.29 L51.92,377.24 L52.17,377.74 L52.46,378.76 L53.06,379.43 L53.43,380.15 L53.43,380.90 L53.85,381.39 L54.60,381.78 L55.20,382.69 L55.54,383.29 L56.21,383.84 L56.88,384.40 L56.88,384.40 Z" fill="#d4d4d4" stroke="#acacac" stroke-width="0.8" stroke-linejoin="round"/>
<path d="M35.80,384.40 L35.80,319.60 L100.30,319.60 L100.30,384.40" fill="none" stroke="#a4a4a4" stroke-width="1.2"/>
<line x1="35.80" y1="384.40" x2="100.30" y2="384.40" stroke="#5a5a5a" stroke-width="1.3"/>
<path d="M35.80,384.40 L35.80,383.69 L35.81,382.85 L35.92,382.45 L35.87,381.28 L35.68,380.76 L36.03,380.24 L35.81,379.54 L35.61,378.84 L35.87,377.85 L35.73,377.26 L36.02,376.53 L35.57,376.08 L35.97,375.09 L35.91,374.77 L35.75,373.87 L35.82,373.09 L35.82,372.56 L36.00,371.90 L35.62,371.15 L35.62,370.02 L35.63,369.27 L35.77,368.57 L35.77,368.33 L35.76,367.14 L35.92,366.69 L35.65,365.88 L35.68,365.30 L36.00,364.37 L35.77,363.71 L35.86,363.37 L35.66,362.21 L35.72,361.75 L35.78,361.08 L35.67,360.32 L35.63,359.64 L35.70,359.07 L35.80,357.91 L35.86,357.36 L35.78,356.51 L35.88,355.91 L35.58,355.31 L35.64,354.61 L35.65,353.75 L35.62,353.02 L35.97,352.30 L35.73,351.84 L35.64,350.89 L35.69,350.61 L35.98,349.76 L35.59,348.79 L35.92,349.55 L35.64,350.30 L36.04,350.93 L36.00,351.57 L35.93,352.72 L35.65,353.26 L36.09,354.26 L35.94,354.55 L35.86,355.32 L35.99,356.00 L36.06,357.00 L35.92,357.54 L36.13,358.16 L36.00,358.79 L35.77,359.77 L35.87,360.36 L35.91,361.00 L36.00,361.82 L36.23,362.87 L36.04,363.17 L36.28,364.01 L35.84,364.96 L35.94,365.81 L36.04,365.98 L36.23,366.90 L35.95,367.45 L36.17,368.19 L36.01,369.03 L36.19,369.82 L36.31,370.80 L36.44,371.17 L36.40,372.22 L36.29,372.76 L36.43,373.42 L36.39,374.43 L36.35,374.58 L36.36,375.36 L36.56,376.26 L36.52,377.16 L36.66,377.52 L36.75,378.71 L36.45,378.90 L36.49,379.92 L36.60,380.82 L36.69,381.14 L36.87,380.63 L37.18,379.96 L37.48,379.15 L37.81,378.09 L38.14,376.96 L38.17,376.34 L38.54,375.62 L38.46,374.86 L38.55,374.14 L39.06,373.22 L39.20,372.16 L39.33,371.78 L39.26,371.02 L39.53,370.11 L39.82,368.98 L39.68,368.59 L39.95,367.43 L40.28,366.77 L40.15,366.16 L40.27,365.36 L40.60,364.56 L40.73,363.80 L40.80,362.81 L40.94,362.04 L41.02,361.43 L41.12,360.72 L41.73,360.13 L41.64,359.29 L41.95,358.68 L42.01,357.89 L41.94,356.87 L42.05,356.21 L42.48,355.46 L42.45,354.32 L42.97,353.96 L42.89,352.95 L43.19,352.12 L43.26,351.09 L43.38,350.75 L43.48,349.81 L43.80,348.82 L44.03,348.28 L44.06,347.77 L44.39,346.79 L44.81,346.19 L45.81,345.63 L46.57,346.73 L46.82,347.11 L47.03,348.03 L47.29,349.03 L47.21,349.75 L47.40,350.81 L47.70,351.14 L47.98,352.20 L48.05,352.92 L48.13,353.62 L48.37,354.52 L48.29,355.23 L48.47,356.32 L48.76,356.80 L48.88,357.98 L49.08,358.41 L49.39,359.44 L49.63,360.02 L49.74,361.30 L49.80,361.60 L49.90,362.53 L49.91,363.30 L50.12,364.23 L50.29,365.27 L50.71,365.91 L50.63,366.80 L50.67,367.29 L51.05,368.43 L51.12,369.21 L51.45,369.70 L51.26,370.48 L51.32,371.22 L51.52,372.03 L51.81,373.01 L52.08,373.66 L52.23,374.46 L52.54,375.56 L52.36,376.37 L52.52,376.78 L52.95,377.56 L53.22,378.81 L53.33,379.35 L53.48,379.70 L54.03,380.38 L54.11,381.48 L54.40,381.89 L55.07,382.76 L55.54,383.29 L56.35,383.84 L57.15,384.40" fill="none" stroke="#151515" stroke-width="1.3" stroke-linejoin="round"/>
<path d="M109.96,384.40 L109.96,384.40 L110.16,383.62 L110.13,382.60 L110.52,382.16 L110.60,381.04 L111.11,380.75 L111.54,380.07 L112.02,379.03 L112.20,378.55 L112.38,378.20 L112.46,376.94 L112.98,376.40 L112.74,375.59 L112.94,375.20 L112.98,373.98 L113.27,373.41 L113.56,372.82 L113.39,371.67 L113.70,371.41 L113.38,370.52 L113.86,369.73 L113.62,369.09 L113.94,367.99 L113.97,367.27 L113.76,366.61 L113.97,365.91 L114.19,365.44 L114.42,364.79 L114.51,363.94 L114.24,362.85 L114.45,362.35 L114.54,361.35 L114.37,361.12 L114.63,360.26 L114.45,359.36 L114.90,358.78 L115.00,357.79 L114.81,357.43 L114.86,356.69 L114.98,355.57 L114.82,355.36 L114.89,354.16 L115.06,353.75 L115.37,352.88 L115.26,352.34 L115.22,351.37 L115.44,350.80 L115.23,349.76 L115.34,349.41 L115.67,348.83 L115.76,347.68 L115.83,347.39 L115.69,346.08 L115.76,345.52 L115.73,344.65 L115.78,344.41 L115.82,343.52 L115.96,342.54 L116.33,341.87 L116.10,341.22 L116.42,340.53 L116.57,339.72 L116.48,339.18 L116.53,338.44 L116.60,337.36 L116.51,337.02 L116.93,336.34 L117.01,335.36 L116.88,334.75 L116.97,333.72 L117.10,332.93 L117.29,332.19 L117.60,331.49 L118.18,330.55 L118.58,331.33 L118.41,331.96 L118.98,332.50 L118.81,333.59 L119.05,334.09 L119.34,334.83 L119.12,335.48 L119.27,336.52 L119.35,337.31 L119.28,337.74 L119.62,338.63 L119.64,339.65 L119.61,339.95 L119.56,340.87 L119.77,341.62 L119.70,342.08 L119.96,343.28 L119.99,344.12 L120.20,344.57 L120.37,345.21 L120.36,346.33 L120.41,346.76 L120.27,347.66 L120.39,348.29 L120.63,349.38 L120.77,349.87 L120.93,350.49 L120.78,351.46 L120.94,351.94 L120.94,353.04 L120.94,353.72 L120.92,354.62 L121.30,354.99 L121.52,356.02 L121.15,356.44 L121.43,357.64 L121.34,357.81 L121.49,358.56 L121.61,359.60 L121.70,360.11 L121.58,361.26 L121.87,361.81 L121.98,362.68 L122.27,363.52 L122.28,363.97 L122.10,364.57 L122.52,365.30 L122.47,366.56 L122.44,366.99 L122.58,368.07 L122.82,368.78 L122.62,369.48 L122.94,370.06 L123.23,371.03 L123.39,371.80 L123.50,372.38 L123.45,373.36 L123.62,373.78 L123.89,375.03 L124.25,375.39 L124.23,376.26 L124.42,377.51 L124.73,377.79 L124.93,378.54 L125.39,379.16 L125.43,379.76 L125.73,380.84 L126.14,381.42 L126.56,382.11 L127.08,382.78 L127.73,383.21 L128.27,383.81 L128.81,384.40 L128.81,384.40 Z" fill="#d4d4d4" stroke="#acacac" stroke-width="0.8" stroke-linejoin="round"/>
<path d="M109.70,384.40 L109.70,319.60 L174.50,319.60 L174.50,384.40" fill="none" stroke="#a4a4a4" stroke-width="1.2"/>
<line x1="109.70" y1="384.40" x2="174.50" y2="384.40" stroke="#5a5a5a" stroke-width="1.3"/>
<path d="M113.73,384.40 L114.40,384.03 L115.08,383.66 L115.75,383.29 L116.33,383.14 L116.90,382.53 L117.72,382.58 L118.15,381.82 L118.47,380.98 L119.21,380.63 L119.44,379.89 L119.54,379.07 L119.63,378.31 L119.82,377.87 L120.24,377.37 L120.38,376.65 L120.54,375.40 L120.72,374.92 L120.62,373.91 L120.60,373.12 L120.69,372.79 L120.94,372.01 L121.32,371.17 L121.04,370.15 L121.49,369.60 L121.28,369.13 L121.29,368.33 L121.30,367.32 L121.55,366.90 L121.70,365.90 L121.96,365.19 L122.06,364.56 L121.78,363.40 L122.03,362.81 L122.32,361.91 L122.49,361.56 L122.42,360.48 L122.57,360.00 L122.70,359.01 L122.75,358.21 L122.68,357.42 L122.68,357.16 L123.12,355.93 L123.05,355.10 L123.00,354.61 L123.02,353.62 L123.33,353.39 L123.19,352.32 L123.54,351.78 L123.64,350.78 L123.87,350.29 L123.92,349.42 L123.73,348.84 L124.04,347.81 L124.20,347.20 L124.07,346.08 L124.29,345.24 L124.60,344.44 L124.69,343.92 L124.89,343.21 L124.92,342.04 L125.43,341.50 L125.58,340.84 L126.40,340.27 L126.42,340.71 L126.49,341.28 L126.69,342.34 L126.88,343.16 L127.09,343.66 L127.55,344.57 L127.27,345.55 L127.67,346.54 L127.87,347.01 L127.91,347.69 L127.92,348.67 L128.01,349.70 L128.41,350.24 L128.55,351.06 L128.39,351.77 L128.49,352.86 L128.72,353.28 L128.73,354.33 L129.26,355.00 L129.36,356.14 L129.14,356.65 L129.68,357.73 L129.68,358.10 L129.63,359.28 L129.71,359.75 L129.82,360.70 L130.01,361.65 L130.09,362.35 L130.63,362.85 L130.50,363.94 L130.55,364.55 L130.66,365.24 L130.96,365.80 L131.28,366.81 L131.03,367.37 L131.25,368.12 L131.60,368.98 L131.72,369.96 L131.81,370.85 L132.08,371.69 L132.39,372.47 L132.80,373.35 L132.94,374.05 L133.14,374.50 L133.15,375.51 L133.35,375.85 L133.56,376.30 L134.02,377.10 L134.17,378.14 L134.56,378.57 L135.23,379.52 L135.74,380.04 L136.00,380.52 L136.76,381.22 L137.44,381.58 L138.04,382.42 L138.61,382.33 L139.22,382.75 L139.98,383.24 L140.65,383.56 L141.46,383.73 L142.27,383.89 L143.08,384.06 L143.88,384.23" fill="none" stroke="#151515" stroke-width="1.3" stroke-linejoin="round"/>
<path d="M183.37,384.40 L183.37,384.40 L183.53,383.62 L183.50,382.66 L183.78,382.29 L184.04,381.40 L184.06,380.47 L184.63,379.67 L184.90,379.08 L184.84,377.74 L185.24,377.01 L185.01,376.60 L185.55,375.89 L185.74,374.74 L185.45,373.93 L186.02,373.15 L185.76,372.33 L185.84,371.57 L186.09,370.90 L186.18,370.61 L186.21,369.79 L186.59,368.90 L186.62,368.27 L186.73,367.20 L186.71,366.46 L186.85,366.16 L186.96,364.86 L187.08,364.56 L187.15,363.74 L187.07,362.61 L187.44,361.85 L187.35,361.31 L187.39,360.35 L187.39,360.15 L187.81,359.40 L187.80,358.66 L188.06,357.72 L187.97,356.92 L187.90,356.11 L188.21,355.26 L188.34,354.72 L188.30,354.17 L188.39,353.03 L188.27,352.21 L188.24,352.05 L188.59,351.32 L188.75,350.20 L188.91,349.83 L188.74,348.59 L188.75,347.90 L188.84,347.12 L189.08,346.92 L188.92,346.07 L189.17,345.16 L189.40,344.36 L189.43,343.42 L189.57,342.77 L189.18,342.46 L189.62,341.59 L189.73,340.66 L189.51,339.88 L190.00,339.53 L189.74,338.46 L189.94,337.99 L189.81,337.19 L190.02,336.28 L190.05,335.25 L190.62,334.83 L190.86,334.37 L190.96,333.23 L191.08,333.10 L191.85,331.87 L191.92,333.10 L192.52,333.33 L192.43,334.28 L192.62,334.73 L192.94,335.76 L192.74,336.17 L192.91,337.38 L192.85,337.75 L193.20,339.02 L193.13,339.52 L193.33,340.30 L193.16,340.90 L193.28,341.60 L193.29,342.46 L193.43,343.49 L193.56,344.30 L193.87,344.64 L193.62,345.56 L193.85,346.29 L193.76,347.04 L194.14,347.73 L193.97,348.77 L194.07,349.56 L194.33,349.71 L194.29,350.55 L194.53,351.46 L194.26,352.52 L194.68,353.06 L194.65,353.49 L194.92,354.38 L194.77,355.24 L194.82,355.70 L195.10,356.73 L194.94,357.70 L195.23,358.37 L195.33,358.89 L195.02,359.64 L195.36,360.67 L195.52,361.35 L195.55,362.14 L195.63,362.52 L195.71,363.44 L195.58,364.41 L196.05,364.98 L196.08,365.96 L196.20,366.88 L196.32,367.17 L196.40,368.10 L196.42,369.07 L196.42,369.81 L196.90,370.25 L197.08,371.43 L197.08,372.27 L197.14,372.72 L197.79,373.80 L197.61,374.32 L197.96,375.24 L198.44,375.70 L198.48,376.52 L198.66,377.50 L198.66,378.10 L199.29,378.44 L199.34,379.40 L200.03,379.83 L200.02,380.63 L200.72,381.18 L201.05,381.70 L201.37,382.45 L202.21,383.21 L202.88,383.81 L203.56,384.40 L203.56,384.40 Z" fill="#d4d4d4" stroke="#acacac" stroke-width="0.8" stroke-linejoin="round"/>
<path d="M182.00,384.40 L182.00,319.60 L246.40,319.60 L246.40,384.40" fill="none" stroke="#a4a4a4" stroke-width="1.2"/>
<line x1="182.00" y1="384.40" x2="246.40" y2="384.40" stroke="#5a5a5a" stroke-width="1.3"/>
<path d="M182.15,384.40 L182.15,383.70 L182.11,382.94 L182.34,382.54 L182.06,381.81 L182.37,381.10 L181.93,380.49 L182.04,379.68 L182.00,378.85 L182.11,378.21 L182.28,377.61 L182.31,376.92 L182.21,376.02 L182.29,375.37 L182.30,374.53 L182.37,374.13 L182.01,373.38 L182.18,372.56 L182.30,371.90 L182.23,371.33 L181.99,370.14 L182.05,369.61 L181.98,368.72 L182.15,368.51 L182.29,367.57 L182.33,366.95 L182.19,365.93 L182.07,365.43 L181.95,364.72 L182.20,363.85 L182.04,363.56 L182.11,362.79 L181.99,361.82 L182.29,361.45 L181.97,360.67 L182.28,360.05 L182.27,359.38 L182.10,358.56 L182.04,357.82 L182.27,357.31 L182.27,356.51 L181.97,355.94 L182.10,355.22 L181.95,354.35 L182.15,353.88 L182.28,352.90 L182.27,352.17 L182.37,351.30 L182.36,351.04 L182.05,350.23 L182.31,349.52 L182.36,348.72 L182.14,348.28 L182.16,347.37 L182.31,346.35 L182.04,345.99 L182.07,345.38 L182.16,344.75 L182.15,343.62 L182.23,342.86 L182.26,342.31 L182.06,341.49 L182.14,341.12 L182.26,340.50 L182.13,339.71 L182.17,338.61 L182.13,338.30 L181.95,337.27 L182.38,336.92 L182.06,335.94 L182.35,335.48 L182.13,334.80 L182.34,333.72 L181.99,333.06 L182.33,332.33 L181.94,332.15 L182.01,330.91 L182.39,330.62 L182.10,329.99 L182.35,328.81 L182.20,328.60 L182.36,327.88 L182.25,327.15 L182.16,326.55 L181.99,325.57 L181.94,325.05 L182.29,324.22 L182.16,323.76 L182.11,322.86 L182.28,321.83 L182.04,321.31 L182.22,320.61 L181.93,321.23 L182.19,322.10 L182.40,323.08 L182.00,323.70 L181.97,323.91 L182.32,325.10 L182.31,325.87 L181.99,326.36 L182.02,326.75 L182.35,327.51 L182.23,328.54 L182.41,329.16 L182.43,329.51 L182.06,330.63 L182.20,331.46 L182.29,332.18 L182.10,332.88 L182.16,333.25 L182.37,333.83 L182.38,334.44 L182.37,335.39 L182.05,336.01 L182.44,336.78 L182.24,337.26 L182.35,337.99 L182.04,338.94 L182.25,339.53 L182.35,340.15 L182.50,341.27 L182.32,341.64 L182.51,342.47 L182.41,343.04 L182.09,343.82 L182.32,344.37 L182.22,345.03 L182.40,345.65 L182.31,346.56 L182.11,347.06 L182.49,348.01 L182.36,348.83 L182.54,349.66 L182.32,350.44 L182.46,351.15 L182.50,351.68 L182.39,352.14 L182.35,352.83 L182.43,353.69 L182.37,354.40 L182.30,354.83 L182.39,355.79 L182.24,356.46 L182.20,357.13 L182.33,357.63 L182.22,358.64 L182.42,359.40 L182.38,360.24 L182.34,360.91 L182.21,361.11 L182.46,361.98 L182.20,362.92 L182.60,363.72 L182.23,364.12 L182.29,364.94 L182.26,365.89 L182.40,366.27 L182.34,366.90 L182.28,367.55 L182.64,368.69 L182.61,369.12 L182.33,369.70 L182.54,370.53 L182.87,371.33 L183.00,372.12 L183.72,371.05 L184.16,370.52 L184.22,369.90 L184.62,369.11 L184.65,368.57 L184.72,368.03 L185.18,367.30 L185.49,366.72 L185.71,366.08 L186.00,364.84 L186.63,364.37 L187.43,363.97 L187.91,363.10 L188.19,362.30 L188.84,361.87 L189.51,362.25 L190.35,362.84 L190.69,362.46 L191.14,362.00 L191.51,360.82 L192.02,361.94 L191.88,362.35 L192.15,362.89 L192.40,363.62 L192.90,364.40 L193.49,365.28 L194.49,365.65 L194.91,366.21 L195.19,367.08 L195.39,367.74 L195.38,368.73 L195.88,369.12 L195.90,369.94 L196.37,370.70 L196.43,370.98 L196.64,371.98 L196.74,372.55 L197.06,373.17 L197.61,373.95 L198.04,374.80 L198.27,375.08 L198.53,375.79 L199.02,376.98 L199.73,377.21 L200.32,377.73 L200.55,378.65 L201.11,379.49 L202.13,379.73 L202.39,380.02 L203.21,380.35 L204.06,380.99 L204.92,381.34 L205.35,381.38 L207.00,381.75 L207.75,381.93 L208.40,381.82 L209.39,382.54 L210.28,382.82 L211.37,382.81 L212.04,383.29 L212.67,383.66 L213.29,384.03 L213.92,384.40" fill="none" stroke="#151515" stroke-width="1.3" stroke-linejoin="round"/>
<path d="M255.62,384.40 L255.62,384.40 L255.72,383.62 L255.85,382.91 L256.07,381.92 L256.09,381.50 L256.53,380.41 L256.72,379.99 L256.96,379.53 L257.19,378.54 L257.61,377.99 L257.51,377.12 L257.82,376.29 L258.09,376.03 L258.16,375.32 L258.55,374.38 L258.59,373.35 L258.44,373.10 L258.70,371.87 L259.15,371.42 L258.93,370.39 L259.08,369.63 L259.05,369.05 L259.28,368.23 L259.31,367.33 L259.32,367.05 L259.75,366.13 L259.53,365.15 L259.62,364.52 L259.67,363.76 L259.83,362.97 L260.13,362.40 L260.10,361.61 L260.18,361.14 L260.12,359.99 L260.26,359.45 L260.45,358.57 L260.55,357.78 L260.44,357.32 L260.38,356.86 L260.62,355.70 L260.57,355.24 L260.40,354.20 L260.73,353.86 L260.71,352.95 L260.79,352.13 L261.02,351.83 L260.88,350.54 L260.89,350.28 L260.91,349.14 L260.89,348.78 L261.15,347.80 L261.20,347.36 L261.42,346.68 L261.22,345.94 L261.50,345.25 L261.47,344.35 L261.41,343.79 L261.53,342.98 L261.40,341.86 L261.48,341.42 L261.68,340.46 L261.56,340.18 L261.57,339.43 L261.96,338.48 L262.13,337.81 L261.72,337.23 L261.97,336.48 L262.23,335.28 L261.99,334.40 L262.48,334.06 L262.35,332.84 L262.55,332.45 L262.87,331.68 L263.38,330.94 L263.58,331.51 L263.46,333.03 L263.83,333.47 L263.67,334.25 L263.85,335.11 L263.98,335.71 L263.88,336.48 L263.98,337.18 L264.19,337.97 L264.43,338.97 L264.33,339.77 L264.28,340.15 L264.27,341.09 L264.46,341.78 L264.50,342.88 L264.41,343.40 L264.65,344.04 L264.88,344.76 L264.62,345.47 L265.15,346.33 L264.81,347.45 L265.14,348.19 L265.06,348.85 L265.00,349.25 L265.43,350.17 L265.51,350.84 L265.62,351.40 L265.58,352.21 L265.45,353.38 L265.63,354.08 L265.64,354.78 L266.01,355.47 L265.76,356.24 L266.18,357.07 L266.01,357.58 L265.92,358.55 L266.05,358.98 L266.08,359.72 L266.35,360.68 L266.34,361.42 L266.72,361.99 L266.52,363.01 L266.98,364.02 L266.93,364.31 L267.19,365.64 L267.32,366.14 L267.18,366.96 L267.49,367.99 L267.46,368.48 L267.51,369.29 L267.75,369.92 L267.85,371.09 L267.87,371.47 L268.04,372.62 L268.17,373.39 L268.68,374.26 L268.82,374.69 L268.85,375.91 L268.95,376.62 L269.52,377.49 L269.54,377.68 L269.66,378.47 L270.18,379.12 L270.76,380.01 L271.11,380.79 L271.42,381.36 L271.93,381.65 L272.32,382.45 L273.21,382.50 L273.52,383.29 L274.19,383.66 L274.87,384.03 L275.54,384.40 L275.54,384.40 Z" fill="#d4d4d4" stroke="#acacac" stroke-width="0.8" stroke-linejoin="round"/>
<path d="M254.60,384.40 L254.60,319.60 L319.50,319.60 L319.50,384.40" fill="none" stroke="#a4a4a4" stroke-width="1.2"/>
<line x1="254.60" y1="384.40" x2="319.50" y2="384.40" stroke="#5a5a5a" stroke-width="1.3"/>
<path d="M258.04,384.40 L258.71,383.64 L259.38,382.87 L259.96,382.53 L260.20,381.83 L260.79,381.39 L261.22,380.74 L261.45,380.02 L261.43,379.12 L261.57,378.58 L261.83,377.64 L262.02,376.67 L262.50,376.05 L262.64,375.59 L262.65,374.58 L262.71,373.54 L263.12,372.75 L263.39,372.08 L263.47,371.74 L263.22,370.63 L263.56,369.76 L263.57,369.09 L263.80,368.25 L263.97,367.64 L264.06,366.57 L264.35,366.01 L264.22,365.12 L264.28,364.60 L264.46,364.02 L264.60,362.92 L264.89,362.42 L265.07,361.67 L265.00,360.89 L264.91,359.68 L264.96,359.25 L265.45,358.21 L265.54,357.46 L265.71,356.64 L265.55,355.96 L265.75,355.47 L265.89,354.73 L265.79,353.86 L265.91,352.75 L266.18,352.46 L266.40,351.62 L266.26,350.99 L266.71,350.01 L266.77,349.23 L266.87,348.40 L266.86,347.56 L267.00,346.96 L267.22,346.41 L267.43,345.42 L267.51,344.29 L267.34,343.52 L267.76,342.81 L267.88,342.08 L268.23,341.39 L268.30,340.58 L269.26,341.03 L269.60,341.87 L269.95,342.95 L270.15,343.62 L270.60,344.10 L270.68,344.84 L271.04,345.64 L270.74,346.73 L271.08,347.33 L271.07,348.49 L271.37,349.09 L271.46,350.12 L271.44,350.56 L271.69,351.35 L272.01,352.44 L272.13,352.82 L271.99,353.79 L272.35,354.57 L272.35,355.40 L272.48,355.89 L272.47,356.75 L272.64,357.46 L273.01,358.18 L272.72,359.22 L273.16,359.83 L273.15,360.61 L273.25,361.30 L273.66,362.26 L273.59,362.88 L273.84,363.54 L273.59,364.39 L273.88,365.35 L273.95,365.87 L274.31,366.81 L274.22,367.77 L274.32,368.16 L274.37,368.92 L274.78,369.70 L274.60,370.66 L275.02,371.40 L275.15,372.34 L275.39,373.04 L275.34,373.77 L275.83,375.14 L275.74,375.55 L276.12,376.57 L276.33,377.22 L276.75,377.63 L276.96,378.52 L276.93,379.01 L277.65,379.97 L278.42,380.79 L279.10,381.56 L279.79,382.20 L280.35,382.85 L280.92,383.29 L281.73,383.84 L282.54,384.40" fill="none" stroke="#151515" stroke-width="1.3" stroke-linejoin="round"/>
<path d="M330.37,384.40 L330.37,384.40 L330.59,383.58 L330.83,382.81 L331.20,382.18 L331.49,381.19 L331.79,380.55 L331.75,379.68 L332.12,379.04 L332.32,378.64 L332.88,378.06 L332.86,376.97 L333.07,376.49 L333.49,375.87 L333.67,374.98 L333.66,374.03 L333.64,373.21 L333.88,372.68 L334.04,371.78 L334.04,370.96 L334.30,370.43 L334.34,369.83 L334.19,368.68 L334.26,368.42 L334.58,367.38 L334.65,366.61 L334.76,365.73 L334.78,365.53 L334.70,364.48 L334.63,363.63 L334.74,362.92 L334.72,362.20 L334.80,361.61 L335.01,360.71 L335.33,360.03 L335.20,359.66 L335.37,358.97 L335.36,358.19 L335.16,357.39 L335.35,356.41 L335.62,355.94 L335.48,354.99 L335.51,354.61 L335.73,353.48 L335.76,352.63 L335.69,352.17 L336.09,351.66 L335.95,350.88 L335.87,350.11 L336.29,349.06 L336.32,348.84 L336.11,348.01 L336.47,346.89 L336.28,346.43 L336.50,345.51 L336.54,345.05 L336.67,344.33 L336.74,343.52 L336.66,342.70 L336.67,341.96 L336.79,341.19 L336.69,340.46 L337.15,339.67 L337.24,339.25 L337.06,338.15 L337.34,337.85 L337.14,336.95 L337.47,336.15 L337.28,335.15 L337.68,334.62 L337.77,333.64 L337.99,333.17 L337.92,332.44 L337.94,331.48 L338.72,330.67 L339.15,331.10 L339.29,331.88 L339.57,333.04 L339.55,333.28 L339.44,334.11 L339.61,334.77 L339.47,335.56 L339.93,336.61 L340.01,337.56 L339.94,338.25 L339.95,338.86 L339.90,339.51 L339.94,340.26 L340.43,341.33 L340.40,341.51 L340.59,342.55 L340.52,343.22 L340.64,343.91 L340.39,344.75 L340.51,345.36 L340.59,346.39 L340.89,346.85 L340.97,347.48 L341.17,348.35 L341.04,349.18 L341.27,349.97 L341.02,350.97 L341.29,351.36 L341.43,352.49 L341.52,353.18 L341.41,353.59 L341.34,354.73 L341.50,355.16 L341.85,355.76 L341.98,356.78 L341.69,357.67 L342.01,357.97 L342.00,359.11 L341.97,359.63 L342.34,360.28 L342.15,361.04 L342.36,362.01 L342.35,362.56 L342.38,363.73 L342.69,364.53 L342.56,365.39 L342.95,365.95 L343.13,366.43 L343.14,367.35 L342.97,368.41 L343.09,369.18 L343.32,370.03 L343.37,370.62 L343.98,371.46 L343.97,372.26 L344.11,373.00 L344.12,373.74 L344.61,374.43 L344.76,375.47 L345.08,376.09 L345.28,376.65 L345.33,376.99 L345.41,377.78 L345.91,378.57 L345.98,379.30 L346.45,379.86 L346.77,380.76 L347.56,381.42 L347.68,381.65 L348.67,382.55 L349.25,382.96 L349.62,383.56 L350.42,383.98 L351.23,384.40 L351.23,384.40 Z" fill="#d4d4d4" stroke="#acacac" stroke-width="0.8" stroke-linejoin="round"/>
<path d="M330.20,384.40 L330.20,319.60 L395.00,319.60 L395.00,384.40" fill="none" stroke="#a4a4a4" stroke-width="1.2"/>
<line x1="330.20" y1="384.40" x2="395.00" y2="384.40" stroke="#5a5a5a" stroke-width="1.3"/>
<path d="M331.71,384.40 L332.38,384.07 L333.06,383.75 L333.73,383.42 L334.53,382.70 L335.58,382.59 L335.91,381.96 L336.02,381.34 L336.51,380.53 L336.96,379.77 L337.25,379.22 L337.27,378.45 L337.78,378.08 L338.06,376.98 L338.32,376.48 L338.40,375.41 L338.67,375.02 L338.61,374.11 L339.05,373.44 L339.06,372.52 L338.94,371.86 L339.36,370.90 L339.56,370.31 L339.74,369.48 L339.66,368.62 L339.57,367.74 L339.77,366.84 L339.81,366.49 L339.91,365.48 L340.27,364.71 L340.37,363.92 L340.51,363.43 L340.67,362.51 L340.47,361.75 L340.87,360.83 L341.02,360.49 L341.07,359.38 L341.10,358.60 L340.96,357.91 L341.39,357.50 L341.28,356.60 L341.42,355.99 L341.38,355.02 L341.75,354.18 L341.40,353.80 L341.95,352.79 L341.93,351.83 L341.72,351.02 L341.83,350.51 L341.90,349.90 L342.23,348.89 L342.47,348.29 L342.60,347.22 L342.64,346.92 L342.78,346.07 L342.67,345.00 L343.14,344.36 L343.08,343.44 L343.32,342.84 L343.77,341.93 L343.73,340.97 L344.38,340.46 L344.81,340.72 L345.35,341.65 L345.41,342.12 L345.73,343.07 L346.31,343.63 L346.10,344.26 L346.37,345.06 L346.41,345.52 L346.92,346.73 L346.63,347.13 L346.75,347.84 L347.00,348.91 L346.98,349.76 L347.56,350.39 L347.22,351.28 L347.75,352.28 L347.62,352.92 L347.99,353.61 L348.08,354.33 L347.97,354.83 L348.30,355.61 L348.19,356.61 L348.68,357.15 L348.62,358.36 L348.65,359.04 L348.76,359.57 L348.80,360.42 L349.14,361.56 L349.13,362.11 L349.04,362.88 L349.52,363.63 L349.48,364.34 L349.49,365.06 L349.67,365.61 L349.90,366.77 L349.89,367.55 L349.99,367.98 L350.39,369.19 L350.24,369.52 L350.35,370.54 L350.93,371.41 L351.01,372.10 L351.22,372.81 L351.35,373.77 L351.55,374.29 L351.74,374.99 L351.69,375.96 L352.08,376.65 L352.32,377.29 L352.71,377.63 L352.99,378.54 L353.51,379.35 L353.48,380.05 L354.25,380.62 L354.65,381.07 L355.21,381.93 L355.70,382.61 L355.98,382.74 L356.62,383.29 L357.29,383.66 L357.96,384.03 L358.63,384.40" fill="none" stroke="#151515" stroke-width="1.3" stroke-linejoin="round"/>
<path d="M22.45,393.2 V103" stroke="#000" stroke-width="2.6" stroke-linecap="round"/>
<path d="M22.4,95.6 L25.7,104.6 L19.1,104.6 Z" fill="#000"/>
<path d="M31,400.4 H411" stroke="#000" stroke-width="2.8"/>
<path d="M415.8,400.4 L410.6,397.2 L410.6,403.6 Z" fill="#000" stroke="#000" stroke-width="0.8" stroke-linejoin="round"/>
<path d="M268,81.2 H376" stroke="#000" stroke-width="3.4"/>
<path d="M408.3,95.4 V234.8 M408.5,244.6 V384.3" stroke="#000" stroke-width="3.5"/>
<path d="M447.5,126.5 H454.5 M451,123.0 V130.0" stroke="#000" stroke-width="1.7"/>
<path d="M480.20000000000005,126.2 H485.0" stroke="#000" stroke-width="1.9"/>
<path d="M511.4,126.2 H516.1999999999999" stroke="#000" stroke-width="1.9"/>
<path d="M448.6,206.3 H453.4" stroke="#000" stroke-width="1.9"/>
<path d="M480.20000000000005,206.3 H485.0" stroke="#000" stroke-width="1.9"/>
<path d="M511.4,206.3 H516.1999999999999" stroke="#000" stroke-width="1.9"/>
<path d="M449.6,285.6 H454.4" stroke="#000" stroke-width="1.9"/>
<path d="M477.8,285.6 H484.8 M481.3,282.1 V289.1" stroke="#000" stroke-width="1.7"/>
<path d="M511.0,285.6 H515.8" stroke="#000" stroke-width="1.9"/>
<path d="M449.6,366.4 H454.4" stroke="#000" stroke-width="1.9"/>
<path d="M477.8,366.4 H484.8 M481.3,362.9 V369.9" stroke="#000" stroke-width="1.7"/>
<path d="M509.5,366.4 H516.5 M513.0,362.9 V369.9" stroke="#000" stroke-width="1.7"/>
<path d="M38,469.4 H252.7 V619.3 H38 Z" fill="none" stroke="#000" stroke-width="1.9" stroke-linejoin="round"/>
<path d="M38,589.43 H41" stroke="#000" stroke-width="1.5"/>
<path d="M38,559.25 H41" stroke="#000" stroke-width="1.5"/>
<path d="M38,529.08 H41" stroke="#000" stroke-width="1.5"/>
<path d="M38,498.90 H41" stroke="#000" stroke-width="1.5"/>
<path d="M47.6,619.3 V616.5" stroke="#000" stroke-width="1.5"/>
<path d="M96.2,619.3 V616.5" stroke="#000" stroke-width="1.5"/>
<path d="M145.3,619.3 V616.5" stroke="#000" stroke-width="1.5"/>
<path d="M193.6,619.3 V616.5" stroke="#000" stroke-width="1.5"/>
<path d="M243.0,619.3 V616.5" stroke="#000" stroke-width="1.5"/>
<polyline points="47.6,612.06 96.2,599.99 145.3,599.99 193.6,584.30 243.0,487.43" fill="none" stroke="#000" stroke-width="2" stroke-linejoin="round"/>
<rect x="44.80" y="609.26" width="5.6" height="5.6" fill="#000"/>
<rect x="93.40" y="597.19" width="5.6" height="5.6" fill="#000"/>
<rect x="142.50" y="597.19" width="5.6" height="5.6" fill="#000"/>
<rect x="190.80" y="581.50" width="5.6" height="5.6" fill="#000"/>
<rect x="240.20" y="484.63" width="5.6" height="5.6" fill="#000"/>
<path d="M301,489.6 H516.2 V619.6 H301 Z" fill="none" stroke="#000" stroke-width="1.8" stroke-linejoin="round"/>
<path d="M301,596.30 H304" stroke="#000" stroke-width="1.5"/>
<path d="M301,574.90 H304" stroke="#000" stroke-width="1.5"/>
<path d="M301,553.50 H304" stroke="#000" stroke-width="1.5"/>
<path d="M301,532.10 H304" stroke="#000" stroke-width="1.5"/>
<path d="M301,510.70 H304" stroke="#000" stroke-width="1.5"/>
<path d="M311.4,619.6 V617" stroke="#000" stroke-width="1.5"/>
<path d="M359.7,619.6 V617" stroke="#000" stroke-width="1.5"/>
<path d="M409.1,619.6 V617" stroke="#000" stroke-width="1.5"/>
<path d="M458.0,619.6 V617" stroke="#000" stroke-width="1.5"/>
<path d="M506.6,619.6 V617" stroke="#000" stroke-width="1.5"/>
<polyline points="311.4,615.56 359.7,615.99 409.1,582.60 458.0,573.19 506.6,502.57" fill="none" stroke="#000" stroke-width="2" stroke-linejoin="round"/>
<polyline points="311.4,615.13 359.7,611.49 409.1,612.03 458.0,531.67 506.6,516.69" fill="none" stroke="#000" stroke-width="2" stroke-linejoin="round"/>
<rect x="357.40" y="613.69" width="4.6" height="4.6" fill="#fff" stroke="#000" stroke-width="1.3"/>
<rect x="406.80" y="580.30" width="4.6" height="4.6" fill="#fff" stroke="#000" stroke-width="1.3"/>
<rect x="455.70" y="570.89" width="4.6" height="4.6" fill="#fff" stroke="#000" stroke-width="1.3"/>
<rect x="504.30" y="500.27" width="4.6" height="4.6" fill="#fff" stroke="#000" stroke-width="1.3"/>
<circle cx="311.4" cy="615.13" r="3.3" fill="#000"/>
<circle cx="359.7" cy="611.49" r="3.3" fill="#000"/>
<circle cx="409.1" cy="612.03" r="3.3" fill="#000"/>
<rect x="455.20" y="528.87" width="5.6" height="5.6" fill="#000"/>
<rect x="503.80" y="513.89" width="5.6" height="5.6" fill="#000"/>
<text x="0.5" y="18.6" font-family="Liberation Sans" font-weight="bold" font-size="26" textLength="18" lengthAdjust="spacingAndGlyphs" xml:space="preserve">A</text>
<text x="-0.2" y="461.2" font-family="Liberation Sans" font-weight="bold" font-size="23.5" xml:space="preserve">B</text>
<text x="280" y="460.1" font-family="Liberation Sans" font-weight="bold" font-size="24" xml:space="preserve">C</text>
<text x="49.5" y="51.5" font-family="Liberation Sans" font-weight="bold" font-size="14.3" font-style="italic" textLength="48" lengthAdjust="spacingAndGlyphs" xml:space="preserve">Rolling</text>
<text x="154.5" y="51.3" font-family="Liberation Sans" font-weight="bold" font-size="14.3" font-style="italic" textLength="68" lengthAdjust="spacingAndGlyphs" xml:space="preserve">Activation</text>
<text x="288.8" y="50.6" font-family="Liberation Sans" font-weight="bold" font-size="14.3" font-style="italic" textLength="65.3" lengthAdjust="spacingAndGlyphs" xml:space="preserve">Adhesion</text>
<text x="49.9" y="77.2" font-family="Liberation Sans" font-weight="bold" font-size="12.8" textLength="37.6" lengthAdjust="spacingAndGlyphs" xml:space="preserve">CD62L</text>
<text x="122.1" y="77.2" font-family="Liberation Sans" font-weight="bold" font-size="12.8" textLength="31.8" lengthAdjust="spacingAndGlyphs" xml:space="preserve">CCR7</text>
<text x="197.8" y="77.4" font-family="Liberation Sans" font-weight="bold" font-size="12.8" textLength="40.6" lengthAdjust="spacingAndGlyphs" xml:space="preserve">CXCR4</text>
<text x="302.2" y="76.9" font-family="Liberation Sans" font-weight="bold" font-size="12.0" textLength="33.2" lengthAdjust="spacingAndGlyphs" xml:space="preserve">LFA-1</text>
<text x="270.5" y="95.1" font-family="Liberation Sans" font-weight="bold" font-size="10.6" textLength="34" lengthAdjust="spacingAndGlyphs" xml:space="preserve">CD11a</text>
<text x="346.2" y="95.1" font-family="Liberation Sans" font-weight="bold" font-size="10.6" textLength="28.3" lengthAdjust="spacingAndGlyphs" xml:space="preserve">CD18</text>
<text x="12.3" y="286" font-family="Liberation Sans" font-weight="bold" font-size="13.3" font-style="italic" textLength="75.8" lengthAdjust="spacingAndGlyphs" transform="rotate(-90 12.3 286)" xml:space="preserve">cell count</text>
<text x="140.6" y="421.6" font-family="Liberation Sans" font-weight="bold" font-size="14.6" textLength="173" lengthAdjust="spacingAndGlyphs" xml:space="preserve">fluorescence intensity</text>
<text x="456.0" y="96.2" font-family="Liberation Sans" font-weight="bold" font-size="14" textLength="80.2" lengthAdjust="spacingAndGlyphs" transform="rotate(-90 456.0 96.2)" xml:space="preserve">CD40L / IL-4</text>
<text x="486.4" y="98.3" font-family="Liberation Sans" font-weight="bold" font-size="14" textLength="92.2" lengthAdjust="spacingAndGlyphs" transform="rotate(-90 486.4 98.3)" xml:space="preserve">IL-4 / GM-CSF</text>
<text x="519.3" y="98.0" font-family="Liberation Sans" font-weight="bold" font-size="14" textLength="100" lengthAdjust="spacingAndGlyphs" transform="rotate(-90 519.3 98.0)" xml:space="preserve">TNF-<tspan font-family="Liberation Serif" font-style="italic" font-weight="normal" font-size="16">&#945;</tspan> / <tspan font-family="Liberation Serif" font-style="italic" font-weight="normal" font-size="16">&#945;</tspan>CD40</text>
<text x="430.9" y="190.2" font-family="Liberation Sans" font-weight="bold" font-size="14" textLength="45.4" lengthAdjust="spacingAndGlyphs" transform="rotate(-90 430.9 190.2)" xml:space="preserve">B-cells</text>
<text x="430.0" y="323.8" font-family="Liberation Sans" font-weight="bold" font-size="14" textLength="19.4" lengthAdjust="spacingAndGlyphs" transform="rotate(-90 430.0 323.8)" xml:space="preserve">DC</text>
<text x="21.6" y="500.5" font-family="Liberation Sans" font-weight="bold" font-size="12" xml:space="preserve">3</text>
<text x="21.6" y="561.3" font-family="Liberation Sans" font-weight="bold" font-size="12" xml:space="preserve">2</text>
<text x="22.8" y="618.8" font-family="Liberation Sans" font-weight="bold" font-size="12" xml:space="preserve">1</text>
<text x="44.5" y="636.8" font-family="Liberation Sans" font-weight="bold" font-size="12" xml:space="preserve">0</text>
<text x="92.6" y="636.8" font-family="Liberation Sans" font-weight="bold" font-size="12" xml:space="preserve">1</text>
<text x="140.0" y="636.8" font-family="Liberation Sans" font-weight="bold" font-size="12" xml:space="preserve">10</text>
<text x="185.4" y="636.8" font-family="Liberation Sans" font-weight="bold" font-size="12" xml:space="preserve">100</text>
<text x="230.0" y="636.8" font-family="Liberation Sans" font-weight="bold" font-size="12" xml:space="preserve">1000</text>
<text x="9.6" y="598.8" font-family="Liberation Sans" font-weight="bold" font-size="11.6" textLength="87.4" lengthAdjust="spacingAndGlyphs" transform="rotate(-90 9.6 598.8)" xml:space="preserve">Fold migration</text>
<text x="34.2" y="655.3" font-family="Liberation Sans" font-weight="bold" font-size="11.7" textLength="219" lengthAdjust="spacingAndGlyphs" xml:space="preserve">concentration of chemokine  [ng/mL]</text>
<text x="282.6" y="509.6" font-family="Liberation Sans" font-weight="bold" font-size="12" xml:space="preserve">6</text>
<text x="282.6" y="533.5" font-family="Liberation Sans" font-weight="bold" font-size="12" xml:space="preserve">5</text>
<text x="282.6" y="555.2" font-family="Liberation Sans" font-weight="bold" font-size="12" xml:space="preserve">4</text>
<text x="282.6" y="577.1" font-family="Liberation Sans" font-weight="bold" font-size="12" xml:space="preserve">3</text>
<text x="282.6" y="598.0" font-family="Liberation Sans" font-weight="bold" font-size="12" xml:space="preserve">2</text>
<text x="282.6" y="617.6" font-family="Liberation Sans" font-weight="bold" font-size="12" xml:space="preserve">1</text>
<text x="307.6" y="636.3" font-family="Liberation Sans" font-weight="bold" font-size="12" xml:space="preserve">0</text>
<text x="355.6" y="636.3" font-family="Liberation Sans" font-weight="bold" font-size="12" xml:space="preserve">1</text>
<text x="401.0" y="636.3" font-family="Liberation Sans" font-weight="bold" font-size="12" xml:space="preserve">10</text>
<text x="447.3" y="636.3" font-family="Liberation Sans" font-weight="bold" font-size="12" xml:space="preserve">100</text>
<text x="492.8" y="636.3" font-family="Liberation Sans" font-weight="bold" font-size="12" xml:space="preserve">1000</text>
<text x="301.7" y="655.2" font-family="Liberation Sans" font-weight="bold" font-size="11.7" textLength="218" lengthAdjust="spacingAndGlyphs" xml:space="preserve">concentration of chemokine  [ng/mL]</text>
</svg>
</body></html>
